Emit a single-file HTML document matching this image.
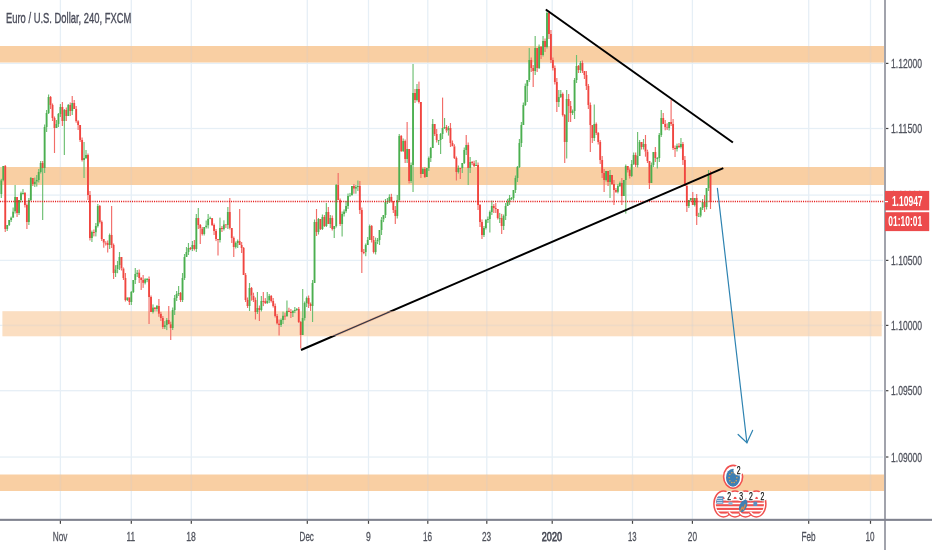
<!DOCTYPE html>
<html><head><meta charset="utf-8"><title>EURUSD chart</title><style>html,body{margin:0;padding:0;background:#fff;overflow:hidden}svg{display:block}</style></head><body>
<svg width="932" height="550" viewBox="0 0 932 550" font-family="'Liberation Sans', sans-serif">
<rect width="932" height="550" fill="#fff"/>
<rect x="59.75" y="0" width="1.3" height="520" fill="#e6eff6"/>
<rect x="130.65" y="0" width="1.3" height="520" fill="#e6eff6"/>
<rect x="190.65" y="0" width="1.3" height="520" fill="#e6eff6"/>
<rect x="306.65" y="0" width="1.3" height="520" fill="#e6eff6"/>
<rect x="367.85" y="0" width="1.3" height="520" fill="#e6eff6"/>
<rect x="427.15" y="0" width="1.3" height="520" fill="#e6eff6"/>
<rect x="486.15" y="0" width="1.3" height="520" fill="#e6eff6"/>
<rect x="551.55" y="0" width="1.3" height="520" fill="#e6eff6"/>
<rect x="631.85" y="0" width="1.3" height="520" fill="#e6eff6"/>
<rect x="691.75" y="0" width="1.3" height="520" fill="#e6eff6"/>
<rect x="808.05" y="0" width="1.3" height="520" fill="#e6eff6"/>
<rect x="869.85" y="0" width="1.3" height="520" fill="#e6eff6"/>
<rect x="0" y="62.75" width="883" height="1.3" fill="#e6eff6"/>
<rect x="0" y="127.85" width="883" height="1.3" fill="#e6eff6"/>
<rect x="0" y="194.45" width="883" height="1.3" fill="#e6eff6"/>
<rect x="0" y="259.75" width="883" height="1.3" fill="#e6eff6"/>
<rect x="0" y="324.75" width="883" height="1.3" fill="#e6eff6"/>
<rect x="0" y="390.05" width="883" height="1.3" fill="#e6eff6"/>
<rect x="0" y="456.40" width="883" height="1.3" fill="#e6eff6"/>
<rect x="0" y="46" width="884" height="16.5" fill="#f9cfa3"/>
<rect x="0" y="167" width="884" height="18" fill="#f9cfa3"/>
<rect x="2.4" y="311.2" width="879.3" height="25.1" fill="#fbdec1"/>
<rect x="0" y="474.5" width="884" height="16.5" fill="#f9cfa3"/>
<rect x="59.6" y="46" width="1.6" height="16.5" fill="#c2cfdc" opacity="0.2"/>
<rect x="59.6" y="167" width="1.6" height="18" fill="#c2cfdc" opacity="0.2"/>
<rect x="59.6" y="311" width="1.6" height="25" fill="#c2cfdc" opacity="0.2"/>
<rect x="59.6" y="474.5" width="1.6" height="16.5" fill="#c2cfdc" opacity="0.2"/>
<rect x="130.5" y="46" width="1.6" height="16.5" fill="#c2cfdc" opacity="0.2"/>
<rect x="130.5" y="167" width="1.6" height="18" fill="#c2cfdc" opacity="0.2"/>
<rect x="130.5" y="311" width="1.6" height="25" fill="#c2cfdc" opacity="0.2"/>
<rect x="130.5" y="474.5" width="1.6" height="16.5" fill="#c2cfdc" opacity="0.2"/>
<rect x="190.5" y="46" width="1.6" height="16.5" fill="#c2cfdc" opacity="0.2"/>
<rect x="190.5" y="167" width="1.6" height="18" fill="#c2cfdc" opacity="0.2"/>
<rect x="190.5" y="311" width="1.6" height="25" fill="#c2cfdc" opacity="0.2"/>
<rect x="190.5" y="474.5" width="1.6" height="16.5" fill="#c2cfdc" opacity="0.2"/>
<rect x="306.5" y="46" width="1.6" height="16.5" fill="#c2cfdc" opacity="0.2"/>
<rect x="306.5" y="167" width="1.6" height="18" fill="#c2cfdc" opacity="0.2"/>
<rect x="306.5" y="311" width="1.6" height="25" fill="#c2cfdc" opacity="0.2"/>
<rect x="306.5" y="474.5" width="1.6" height="16.5" fill="#c2cfdc" opacity="0.2"/>
<rect x="367.7" y="46" width="1.6" height="16.5" fill="#c2cfdc" opacity="0.2"/>
<rect x="367.7" y="167" width="1.6" height="18" fill="#c2cfdc" opacity="0.2"/>
<rect x="367.7" y="311" width="1.6" height="25" fill="#c2cfdc" opacity="0.2"/>
<rect x="367.7" y="474.5" width="1.6" height="16.5" fill="#c2cfdc" opacity="0.2"/>
<rect x="427.0" y="46" width="1.6" height="16.5" fill="#c2cfdc" opacity="0.2"/>
<rect x="427.0" y="167" width="1.6" height="18" fill="#c2cfdc" opacity="0.2"/>
<rect x="427.0" y="311" width="1.6" height="25" fill="#c2cfdc" opacity="0.2"/>
<rect x="427.0" y="474.5" width="1.6" height="16.5" fill="#c2cfdc" opacity="0.2"/>
<rect x="486.0" y="46" width="1.6" height="16.5" fill="#c2cfdc" opacity="0.2"/>
<rect x="486.0" y="167" width="1.6" height="18" fill="#c2cfdc" opacity="0.2"/>
<rect x="486.0" y="311" width="1.6" height="25" fill="#c2cfdc" opacity="0.2"/>
<rect x="486.0" y="474.5" width="1.6" height="16.5" fill="#c2cfdc" opacity="0.2"/>
<rect x="551.4" y="46" width="1.6" height="16.5" fill="#c2cfdc" opacity="0.2"/>
<rect x="551.4" y="167" width="1.6" height="18" fill="#c2cfdc" opacity="0.2"/>
<rect x="551.4" y="311" width="1.6" height="25" fill="#c2cfdc" opacity="0.2"/>
<rect x="551.4" y="474.5" width="1.6" height="16.5" fill="#c2cfdc" opacity="0.2"/>
<rect x="631.7" y="46" width="1.6" height="16.5" fill="#c2cfdc" opacity="0.2"/>
<rect x="631.7" y="167" width="1.6" height="18" fill="#c2cfdc" opacity="0.2"/>
<rect x="631.7" y="311" width="1.6" height="25" fill="#c2cfdc" opacity="0.2"/>
<rect x="631.7" y="474.5" width="1.6" height="16.5" fill="#c2cfdc" opacity="0.2"/>
<rect x="691.6" y="46" width="1.6" height="16.5" fill="#c2cfdc" opacity="0.2"/>
<rect x="691.6" y="167" width="1.6" height="18" fill="#c2cfdc" opacity="0.2"/>
<rect x="691.6" y="311" width="1.6" height="25" fill="#c2cfdc" opacity="0.2"/>
<rect x="691.6" y="474.5" width="1.6" height="16.5" fill="#c2cfdc" opacity="0.2"/>
<rect x="807.9" y="46" width="1.6" height="16.5" fill="#c2cfdc" opacity="0.2"/>
<rect x="807.9" y="167" width="1.6" height="18" fill="#c2cfdc" opacity="0.2"/>
<rect x="807.9" y="311" width="1.6" height="25" fill="#c2cfdc" opacity="0.2"/>
<rect x="807.9" y="474.5" width="1.6" height="16.5" fill="#c2cfdc" opacity="0.2"/>
<rect x="869.7" y="46" width="1.6" height="16.5" fill="#c2cfdc" opacity="0.2"/>
<rect x="869.7" y="167" width="1.6" height="18" fill="#c2cfdc" opacity="0.2"/>
<rect x="869.7" y="311" width="1.6" height="25" fill="#c2cfdc" opacity="0.2"/>
<rect x="869.7" y="474.5" width="1.6" height="16.5" fill="#c2cfdc" opacity="0.2"/>
<rect x="3" y="324.6" width="878" height="1.6" fill="#c2cfdc" opacity="0.2"/>
<defs><filter id="bl" x="-2%" y="-2%" width="104%" height="104%"><feGaussianBlur stdDeviation="0.45"/></filter></defs>
<g id="candles" filter="url(#bl)">
<rect x="0.72" y="178.8" width="1.15" height="1.5" fill="#6dbf72"/>
<rect x="0.72" y="194.0" width="1.15" height="4.0" fill="#6dbf72"/>
<rect x="2.69" y="180.3" width="1.15" height="1.0" fill="#6dbf72"/>
<rect x="4.67" y="165.0" width="1.15" height="1.0" fill="#f26d68"/>
<rect x="4.67" y="229.0" width="1.15" height="3.0" fill="#f26d68"/>
<rect x="6.64" y="229.0" width="1.15" height="2.0" fill="#6dbf72"/>
<rect x="8.61" y="225.0" width="1.15" height="1.0" fill="#6dbf72"/>
<rect x="10.57" y="216.6" width="1.15" height="1.0" fill="#6dbf72"/>
<rect x="10.57" y="220.0" width="1.15" height="2.0" fill="#6dbf72"/>
<rect x="12.55" y="207.5" width="1.15" height="4.0" fill="#6dbf72"/>
<rect x="14.52" y="185.0" width="1.15" height="12.0" fill="#6dbf72"/>
<rect x="14.52" y="211.5" width="1.15" height="2.0" fill="#6dbf72"/>
<rect x="16.49" y="213.0" width="1.15" height="4.0" fill="#f26d68"/>
<rect x="18.45" y="213.0" width="1.15" height="2.0" fill="#6dbf72"/>
<rect x="20.43" y="191.6" width="1.15" height="1.5" fill="#6dbf72"/>
<rect x="20.43" y="200.0" width="1.15" height="2.5" fill="#6dbf72"/>
<rect x="22.40" y="189.0" width="1.15" height="4.0" fill="#6dbf72"/>
<rect x="22.40" y="194.0" width="1.15" height="0.6" fill="#6dbf72"/>
<rect x="24.37" y="192.0" width="1.15" height="1.0" fill="#f26d68"/>
<rect x="24.37" y="205.0" width="1.15" height="2.5" fill="#f26d68"/>
<rect x="26.33" y="203.5" width="1.15" height="1.5" fill="#f26d68"/>
<rect x="26.33" y="222.0" width="1.15" height="7.0" fill="#f26d68"/>
<rect x="28.30" y="198.0" width="1.15" height="2.0" fill="#6dbf72"/>
<rect x="28.30" y="222.0" width="1.15" height="3.0" fill="#6dbf72"/>
<rect x="30.28" y="177.0" width="1.15" height="1.0" fill="#6dbf72"/>
<rect x="30.28" y="200.0" width="1.15" height="1.0" fill="#6dbf72"/>
<rect x="32.25" y="184.0" width="1.15" height="2.0" fill="#f26d68"/>
<rect x="34.21" y="177.6" width="1.15" height="4.0" fill="#6dbf72"/>
<rect x="34.21" y="184.0" width="1.15" height="3.0" fill="#6dbf72"/>
<rect x="36.18" y="175.0" width="1.15" height="5.0" fill="#6dbf72"/>
<rect x="36.18" y="181.6" width="1.15" height="5.0" fill="#6dbf72"/>
<rect x="38.16" y="169.0" width="1.15" height="3.0" fill="#6dbf72"/>
<rect x="38.16" y="180.0" width="1.15" height="2.5" fill="#6dbf72"/>
<rect x="40.13" y="161.0" width="1.15" height="2.0" fill="#6dbf72"/>
<rect x="40.13" y="172.0" width="1.15" height="1.5" fill="#6dbf72"/>
<rect x="42.09" y="161.0" width="1.15" height="2.0" fill="#f26d68"/>
<rect x="42.09" y="168.0" width="1.15" height="52.0" fill="#6dbf72"/>
<rect x="44.06" y="124.5" width="1.15" height="2.5" fill="#6dbf72"/>
<rect x="44.06" y="168.0" width="1.15" height="5.0" fill="#6dbf72"/>
<rect x="46.04" y="110.0" width="1.15" height="3.0" fill="#6dbf72"/>
<rect x="46.04" y="127.0" width="1.15" height="5.0" fill="#6dbf72"/>
<rect x="48.01" y="94.5" width="1.15" height="2.5" fill="#6dbf72"/>
<rect x="48.01" y="113.0" width="1.15" height="1.0" fill="#6dbf72"/>
<rect x="49.97" y="96.0" width="1.15" height="1.0" fill="#f26d68"/>
<rect x="49.97" y="105.0" width="1.15" height="4.0" fill="#f26d68"/>
<rect x="51.94" y="103.5" width="1.15" height="1.5" fill="#f26d68"/>
<rect x="51.94" y="118.0" width="1.15" height="3.0" fill="#f26d68"/>
<rect x="53.92" y="116.5" width="1.15" height="1.5" fill="#f26d68"/>
<rect x="53.92" y="128.0" width="1.15" height="25.0" fill="#f26d68"/>
<rect x="55.89" y="120.0" width="1.15" height="4.0" fill="#6dbf72"/>
<rect x="57.86" y="113.0" width="1.15" height="1.0" fill="#6dbf72"/>
<rect x="57.86" y="124.0" width="1.15" height="3.0" fill="#6dbf72"/>
<rect x="59.82" y="104.0" width="1.15" height="3.0" fill="#6dbf72"/>
<rect x="59.82" y="114.0" width="1.15" height="3.0" fill="#6dbf72"/>
<rect x="61.80" y="102.0" width="1.15" height="5.0" fill="#f26d68"/>
<rect x="61.80" y="121.0" width="1.15" height="5.0" fill="#f26d68"/>
<rect x="63.77" y="109.0" width="1.15" height="1.0" fill="#6dbf72"/>
<rect x="63.77" y="121.0" width="1.15" height="34.0" fill="#6dbf72"/>
<rect x="65.74" y="107.5" width="1.15" height="2.5" fill="#f26d68"/>
<rect x="65.74" y="116.0" width="1.15" height="5.0" fill="#f26d68"/>
<rect x="67.70" y="104.0" width="1.15" height="1.0" fill="#6dbf72"/>
<rect x="69.67" y="102.5" width="1.15" height="2.5" fill="#f26d68"/>
<rect x="69.67" y="111.0" width="1.15" height="5.0" fill="#f26d68"/>
<rect x="71.65" y="96.0" width="1.15" height="7.0" fill="#f26d68"/>
<rect x="71.65" y="111.0" width="1.15" height="4.0" fill="#6dbf72"/>
<rect x="73.62" y="100.0" width="1.15" height="3.0" fill="#f26d68"/>
<rect x="75.58" y="106.0" width="1.15" height="3.0" fill="#f26d68"/>
<rect x="75.58" y="121.2" width="1.15" height="1.5" fill="#f26d68"/>
<rect x="77.55" y="120.2" width="1.15" height="1.0" fill="#f26d68"/>
<rect x="77.55" y="125.0" width="1.15" height="5.0" fill="#f26d68"/>
<rect x="79.53" y="140.0" width="1.15" height="2.0" fill="#f26d68"/>
<rect x="81.50" y="137.5" width="1.15" height="2.5" fill="#f26d68"/>
<rect x="81.50" y="160.0" width="1.15" height="1.5" fill="#f26d68"/>
<rect x="83.46" y="142.0" width="1.15" height="16.0" fill="#6dbf72"/>
<rect x="83.46" y="160.0" width="1.15" height="18.0" fill="#6dbf72"/>
<rect x="85.43" y="150.0" width="1.15" height="5.0" fill="#6dbf72"/>
<rect x="85.43" y="158.0" width="1.15" height="1.0" fill="#6dbf72"/>
<rect x="87.41" y="153.5" width="1.15" height="1.5" fill="#f26d68"/>
<rect x="87.41" y="195.0" width="1.15" height="5.0" fill="#f26d68"/>
<rect x="89.38" y="191.0" width="1.15" height="4.0" fill="#f26d68"/>
<rect x="89.38" y="238.0" width="1.15" height="2.5" fill="#f26d68"/>
<rect x="91.34" y="230.5" width="1.15" height="1.5" fill="#6dbf72"/>
<rect x="91.34" y="238.0" width="1.15" height="4.0" fill="#6dbf72"/>
<rect x="93.31" y="229.5" width="1.15" height="2.5" fill="#f26d68"/>
<rect x="93.31" y="233.0" width="1.15" height="3.4" fill="#f26d68"/>
<rect x="95.29" y="223.0" width="1.15" height="3.0" fill="#6dbf72"/>
<rect x="95.29" y="232.4" width="1.15" height="4.0" fill="#6dbf72"/>
<rect x="97.26" y="204.0" width="1.15" height="2.0" fill="#6dbf72"/>
<rect x="97.26" y="226.0" width="1.15" height="1.5" fill="#6dbf72"/>
<rect x="99.22" y="205.0" width="1.15" height="1.0" fill="#f26d68"/>
<rect x="99.22" y="222.0" width="1.15" height="1.5" fill="#f26d68"/>
<rect x="101.19" y="220.5" width="1.15" height="1.5" fill="#f26d68"/>
<rect x="101.19" y="239.0" width="1.15" height="2.0" fill="#f26d68"/>
<rect x="103.17" y="242.7" width="1.15" height="5.0" fill="#f26d68"/>
<rect x="105.14" y="241.2" width="1.15" height="1.5" fill="#f26d68"/>
<rect x="105.14" y="243.7" width="1.15" height="1.8" fill="#f26d68"/>
<rect x="107.11" y="240.5" width="1.15" height="2.5" fill="#f26d68"/>
<rect x="107.11" y="245.0" width="1.15" height="7.5" fill="#f26d68"/>
<rect x="109.07" y="233.5" width="1.15" height="1.5" fill="#6dbf72"/>
<rect x="109.07" y="245.0" width="1.15" height="4.0" fill="#6dbf72"/>
<rect x="111.05" y="206.0" width="1.15" height="29.0" fill="#f26d68"/>
<rect x="111.05" y="245.0" width="1.15" height="3.0" fill="#f26d68"/>
<rect x="113.02" y="243.5" width="1.15" height="1.5" fill="#f26d68"/>
<rect x="113.02" y="273.0" width="1.15" height="6.0" fill="#f26d68"/>
<rect x="114.99" y="265.2" width="1.15" height="4.0" fill="#6dbf72"/>
<rect x="114.99" y="273.0" width="1.15" height="4.0" fill="#6dbf72"/>
<rect x="116.95" y="261.0" width="1.15" height="4.0" fill="#6dbf72"/>
<rect x="116.95" y="269.2" width="1.15" height="4.0" fill="#6dbf72"/>
<rect x="118.92" y="252.0" width="1.15" height="5.0" fill="#6dbf72"/>
<rect x="118.92" y="265.0" width="1.15" height="5.0" fill="#6dbf72"/>
<rect x="120.90" y="268.5" width="1.15" height="2.0" fill="#f26d68"/>
<rect x="122.87" y="267.5" width="1.15" height="1.0" fill="#f26d68"/>
<rect x="122.87" y="278.0" width="1.15" height="2.0" fill="#f26d68"/>
<rect x="124.83" y="273.0" width="1.15" height="5.0" fill="#f26d68"/>
<rect x="124.83" y="300.0" width="1.15" height="1.5" fill="#f26d68"/>
<rect x="126.80" y="300.0" width="1.15" height="1.0" fill="#6dbf72"/>
<rect x="128.78" y="302.0" width="1.15" height="3.0" fill="#f26d68"/>
<rect x="130.75" y="291.0" width="1.15" height="1.0" fill="#6dbf72"/>
<rect x="130.75" y="302.0" width="1.15" height="3.0" fill="#6dbf72"/>
<rect x="132.71" y="292.0" width="1.15" height="1.0" fill="#6dbf72"/>
<rect x="134.69" y="268.0" width="1.15" height="6.0" fill="#6dbf72"/>
<rect x="134.69" y="280.0" width="1.15" height="4.0" fill="#6dbf72"/>
<rect x="136.66" y="270.0" width="1.15" height="2.5" fill="#6dbf72"/>
<rect x="136.66" y="274.0" width="1.15" height="3.0" fill="#6dbf72"/>
<rect x="138.63" y="269.5" width="1.15" height="3.0" fill="#f26d68"/>
<rect x="138.63" y="278.0" width="1.15" height="5.0" fill="#f26d68"/>
<rect x="140.59" y="277.0" width="1.15" height="1.0" fill="#f26d68"/>
<rect x="140.59" y="280.0" width="1.15" height="10.0" fill="#f26d68"/>
<rect x="142.56" y="275.0" width="1.15" height="5.0" fill="#f26d68"/>
<rect x="142.56" y="282.9" width="1.15" height="5.0" fill="#f26d68"/>
<rect x="144.54" y="278.2" width="1.15" height="1.0" fill="#6dbf72"/>
<rect x="144.54" y="282.9" width="1.15" height="1.5" fill="#6dbf72"/>
<rect x="146.51" y="278.0" width="1.15" height="1.0" fill="#6dbf72"/>
<rect x="146.51" y="280.0" width="1.15" height="2.2" fill="#6dbf72"/>
<rect x="148.47" y="276.5" width="1.15" height="2.5" fill="#f26d68"/>
<rect x="148.47" y="297.0" width="1.15" height="27.0" fill="#f26d68"/>
<rect x="150.44" y="295.5" width="1.15" height="1.5" fill="#f26d68"/>
<rect x="152.42" y="304.4" width="1.15" height="3.0" fill="#6dbf72"/>
<rect x="152.42" y="312.0" width="1.15" height="1.5" fill="#6dbf72"/>
<rect x="154.39" y="309.0" width="1.15" height="2.5" fill="#f26d68"/>
<rect x="156.36" y="305.0" width="1.15" height="1.0" fill="#6dbf72"/>
<rect x="156.36" y="309.0" width="1.15" height="2.5" fill="#6dbf72"/>
<rect x="158.32" y="299.0" width="1.15" height="7.0" fill="#f26d68"/>
<rect x="158.32" y="313.8" width="1.15" height="3.0" fill="#f26d68"/>
<rect x="160.30" y="311.8" width="1.15" height="2.0" fill="#f26d68"/>
<rect x="160.30" y="318.0" width="1.15" height="3.0" fill="#f26d68"/>
<rect x="162.27" y="316.0" width="1.15" height="2.0" fill="#f26d68"/>
<rect x="162.27" y="327.0" width="1.15" height="2.0" fill="#f26d68"/>
<rect x="164.24" y="321.1" width="1.15" height="4.0" fill="#6dbf72"/>
<rect x="164.24" y="327.0" width="1.15" height="2.0" fill="#6dbf72"/>
<rect x="166.20" y="318.0" width="1.15" height="2.0" fill="#6dbf72"/>
<rect x="166.20" y="325.1" width="1.15" height="5.0" fill="#6dbf72"/>
<rect x="168.18" y="306.0" width="1.15" height="14.0" fill="#f26d68"/>
<rect x="170.15" y="321.7" width="1.15" height="2.5" fill="#f26d68"/>
<rect x="170.15" y="328.0" width="1.15" height="12.0" fill="#f26d68"/>
<rect x="172.12" y="307.5" width="1.15" height="2.5" fill="#6dbf72"/>
<rect x="172.12" y="328.0" width="1.15" height="2.0" fill="#6dbf72"/>
<rect x="174.08" y="295.0" width="1.15" height="3.0" fill="#6dbf72"/>
<rect x="174.08" y="310.0" width="1.15" height="5.0" fill="#6dbf72"/>
<rect x="176.06" y="291.0" width="1.15" height="3.0" fill="#6dbf72"/>
<rect x="176.06" y="298.0" width="1.15" height="3.0" fill="#6dbf72"/>
<rect x="178.03" y="286.0" width="1.15" height="7.0" fill="#6dbf72"/>
<rect x="178.03" y="294.0" width="1.15" height="2.0" fill="#6dbf72"/>
<rect x="180.00" y="292.0" width="1.15" height="1.0" fill="#f26d68"/>
<rect x="180.00" y="300.0" width="1.15" height="2.0" fill="#f26d68"/>
<rect x="181.96" y="273.0" width="1.15" height="5.0" fill="#6dbf72"/>
<rect x="181.96" y="300.0" width="1.15" height="2.0" fill="#6dbf72"/>
<rect x="183.94" y="254.0" width="1.15" height="3.0" fill="#6dbf72"/>
<rect x="183.94" y="278.0" width="1.15" height="2.0" fill="#6dbf72"/>
<rect x="185.91" y="247.0" width="1.15" height="5.0" fill="#6dbf72"/>
<rect x="187.88" y="243.0" width="1.15" height="5.0" fill="#6dbf72"/>
<rect x="187.88" y="252.0" width="1.15" height="3.0" fill="#6dbf72"/>
<rect x="189.84" y="247.0" width="1.15" height="1.0" fill="#f26d68"/>
<rect x="189.84" y="249.1" width="1.15" height="1.0" fill="#f26d68"/>
<rect x="191.81" y="241.0" width="1.15" height="4.0" fill="#6dbf72"/>
<rect x="191.81" y="249.1" width="1.15" height="2.0" fill="#6dbf72"/>
<rect x="193.79" y="240.0" width="1.15" height="5.0" fill="#f26d68"/>
<rect x="193.79" y="249.0" width="1.15" height="1.5" fill="#f26d68"/>
<rect x="195.76" y="214.0" width="1.15" height="4.0" fill="#6dbf72"/>
<rect x="195.76" y="249.0" width="1.15" height="3.0" fill="#6dbf72"/>
<rect x="197.72" y="208.0" width="1.15" height="10.0" fill="#6dbf72"/>
<rect x="197.72" y="225.0" width="1.15" height="4.0" fill="#f26d68"/>
<rect x="199.69" y="224.0" width="1.15" height="1.0" fill="#f26d68"/>
<rect x="199.69" y="228.5" width="1.15" height="15.5" fill="#f26d68"/>
<rect x="201.67" y="227.0" width="1.15" height="1.5" fill="#f26d68"/>
<rect x="201.67" y="234.0" width="1.15" height="1.5" fill="#f26d68"/>
<rect x="203.63" y="234.0" width="1.15" height="1.5" fill="#6dbf72"/>
<rect x="205.61" y="220.5" width="1.15" height="5.0" fill="#6dbf72"/>
<rect x="205.61" y="227.0" width="1.15" height="1.5" fill="#6dbf72"/>
<rect x="207.58" y="214.0" width="1.15" height="5.0" fill="#6dbf72"/>
<rect x="207.58" y="225.5" width="1.15" height="3.0" fill="#6dbf72"/>
<rect x="209.55" y="216.6" width="1.15" height="1.5" fill="#6dbf72"/>
<rect x="211.52" y="225.0" width="1.15" height="1.0" fill="#f26d68"/>
<rect x="213.49" y="223.5" width="1.15" height="1.5" fill="#f26d68"/>
<rect x="213.49" y="231.0" width="1.15" height="4.0" fill="#f26d68"/>
<rect x="215.46" y="229.0" width="1.15" height="2.0" fill="#f26d68"/>
<rect x="215.46" y="239.1" width="1.15" height="2.0" fill="#f26d68"/>
<rect x="217.43" y="240.1" width="1.15" height="15.4" fill="#f26d68"/>
<rect x="219.40" y="217.6" width="1.15" height="10.4" fill="#6dbf72"/>
<rect x="219.40" y="240.0" width="1.15" height="2.5" fill="#6dbf72"/>
<rect x="221.37" y="226.0" width="1.15" height="2.0" fill="#f26d68"/>
<rect x="221.37" y="229.0" width="1.15" height="3.0" fill="#f26d68"/>
<rect x="223.34" y="220.3" width="1.15" height="4.0" fill="#6dbf72"/>
<rect x="223.34" y="229.0" width="1.15" height="1.5" fill="#6dbf72"/>
<rect x="225.31" y="225.3" width="1.15" height="2.7" fill="#f26d68"/>
<rect x="227.28" y="207.0" width="1.15" height="5.0" fill="#6dbf72"/>
<rect x="227.28" y="225.0" width="1.15" height="4.0" fill="#6dbf72"/>
<rect x="229.25" y="198.0" width="1.15" height="14.0" fill="#f26d68"/>
<rect x="229.25" y="228.0" width="1.15" height="1.5" fill="#f26d68"/>
<rect x="231.22" y="238.0" width="1.15" height="5.0" fill="#f26d68"/>
<rect x="233.19" y="236.5" width="1.15" height="1.5" fill="#f26d68"/>
<rect x="233.19" y="247.0" width="1.15" height="10.0" fill="#f26d68"/>
<rect x="235.16" y="241.5" width="1.15" height="1.5" fill="#6dbf72"/>
<rect x="235.16" y="247.0" width="1.15" height="1.5" fill="#6dbf72"/>
<rect x="237.12" y="239.5" width="1.15" height="1.5" fill="#6dbf72"/>
<rect x="237.12" y="243.0" width="1.15" height="5.0" fill="#6dbf72"/>
<rect x="239.10" y="209.0" width="1.15" height="32.0" fill="#f26d68"/>
<rect x="241.06" y="242.0" width="1.15" height="3.0" fill="#f26d68"/>
<rect x="241.06" y="248.0" width="1.15" height="5.0" fill="#f26d68"/>
<rect x="243.04" y="247.0" width="1.15" height="1.0" fill="#f26d68"/>
<rect x="245.00" y="273.0" width="1.15" height="2.0" fill="#f26d68"/>
<rect x="245.00" y="300.0" width="1.15" height="2.0" fill="#f26d68"/>
<rect x="246.98" y="297.5" width="1.15" height="2.5" fill="#f26d68"/>
<rect x="246.98" y="306.0" width="1.15" height="2.0" fill="#f26d68"/>
<rect x="248.94" y="283.0" width="1.15" height="5.0" fill="#6dbf72"/>
<rect x="248.94" y="306.0" width="1.15" height="5.0" fill="#6dbf72"/>
<rect x="250.92" y="287.0" width="1.15" height="1.0" fill="#f26d68"/>
<rect x="250.92" y="295.7" width="1.15" height="5.0" fill="#f26d68"/>
<rect x="252.88" y="292.7" width="1.15" height="3.0" fill="#f26d68"/>
<rect x="252.88" y="300.0" width="1.15" height="2.0" fill="#f26d68"/>
<rect x="254.86" y="297.5" width="1.15" height="2.5" fill="#f26d68"/>
<rect x="254.86" y="312.0" width="1.15" height="7.5" fill="#f26d68"/>
<rect x="256.83" y="292.0" width="1.15" height="16.0" fill="#6dbf72"/>
<rect x="256.83" y="312.0" width="1.15" height="2.0" fill="#6dbf72"/>
<rect x="258.80" y="305.5" width="1.15" height="2.5" fill="#f26d68"/>
<rect x="258.80" y="310.0" width="1.15" height="11.0" fill="#f26d68"/>
<rect x="260.77" y="296.0" width="1.15" height="5.0" fill="#6dbf72"/>
<rect x="260.77" y="310.0" width="1.15" height="1.5" fill="#6dbf72"/>
<rect x="262.74" y="292.0" width="1.15" height="9.0" fill="#f26d68"/>
<rect x="262.74" y="302.0" width="1.15" height="4.1" fill="#f26d68"/>
<rect x="264.71" y="298.1" width="1.15" height="3.0" fill="#f26d68"/>
<rect x="264.71" y="303.0" width="1.15" height="1.0" fill="#f26d68"/>
<rect x="266.68" y="292.0" width="1.15" height="8.6" fill="#6dbf72"/>
<rect x="266.68" y="303.0" width="1.15" height="1.0" fill="#6dbf72"/>
<rect x="268.65" y="294.0" width="1.15" height="2.0" fill="#6dbf72"/>
<rect x="268.65" y="300.6" width="1.15" height="2.5" fill="#6dbf72"/>
<rect x="270.62" y="295.0" width="1.15" height="1.0" fill="#f26d68"/>
<rect x="270.62" y="301.0" width="1.15" height="1.5" fill="#f26d68"/>
<rect x="272.59" y="298.0" width="1.15" height="3.0" fill="#f26d68"/>
<rect x="272.59" y="306.0" width="1.15" height="1.5" fill="#f26d68"/>
<rect x="274.56" y="303.5" width="1.15" height="2.5" fill="#f26d68"/>
<rect x="274.56" y="316.0" width="1.15" height="1.5" fill="#f26d68"/>
<rect x="276.53" y="314.0" width="1.15" height="2.0" fill="#f26d68"/>
<rect x="276.53" y="323.5" width="1.15" height="1.0" fill="#f26d68"/>
<rect x="278.50" y="319.5" width="1.15" height="4.0" fill="#f26d68"/>
<rect x="278.50" y="325.0" width="1.15" height="10.5" fill="#f26d68"/>
<rect x="280.47" y="318.5" width="1.15" height="1.5" fill="#6dbf72"/>
<rect x="280.47" y="325.0" width="1.15" height="2.0" fill="#6dbf72"/>
<rect x="282.44" y="311.6" width="1.15" height="4.0" fill="#6dbf72"/>
<rect x="282.44" y="320.0" width="1.15" height="4.0" fill="#6dbf72"/>
<rect x="284.41" y="312.6" width="1.15" height="3.0" fill="#f26d68"/>
<rect x="284.41" y="316.6" width="1.15" height="3.4" fill="#f26d68"/>
<rect x="286.38" y="300.5" width="1.15" height="10.2" fill="#6dbf72"/>
<rect x="286.38" y="316.0" width="1.15" height="1.0" fill="#6dbf72"/>
<rect x="288.35" y="307.7" width="1.15" height="3.0" fill="#f26d68"/>
<rect x="290.31" y="309.0" width="1.15" height="3.0" fill="#f26d68"/>
<rect x="290.31" y="313.0" width="1.15" height="5.0" fill="#f26d68"/>
<rect x="292.29" y="313.0" width="1.15" height="4.0" fill="#6dbf72"/>
<rect x="294.25" y="307.0" width="1.15" height="3.0" fill="#6dbf72"/>
<rect x="294.25" y="311.0" width="1.15" height="2.1" fill="#6dbf72"/>
<rect x="296.23" y="308.0" width="1.15" height="1.0" fill="#6dbf72"/>
<rect x="296.23" y="310.0" width="1.15" height="1.0" fill="#6dbf72"/>
<rect x="298.19" y="307.0" width="1.15" height="2.0" fill="#f26d68"/>
<rect x="298.19" y="322.0" width="1.15" height="1.0" fill="#f26d68"/>
<rect x="300.17" y="321.0" width="1.15" height="1.0" fill="#f26d68"/>
<rect x="300.17" y="335.0" width="1.15" height="13.5" fill="#f26d68"/>
<rect x="302.13" y="289.0" width="1.15" height="29.0" fill="#6dbf72"/>
<rect x="304.11" y="301.5" width="1.15" height="1.5" fill="#6dbf72"/>
<rect x="304.11" y="318.0" width="1.15" height="2.5" fill="#6dbf72"/>
<rect x="306.07" y="296.5" width="1.15" height="1.5" fill="#6dbf72"/>
<rect x="306.07" y="303.0" width="1.15" height="4.0" fill="#6dbf72"/>
<rect x="308.05" y="295.5" width="1.15" height="2.5" fill="#f26d68"/>
<rect x="308.05" y="304.0" width="1.15" height="4.0" fill="#f26d68"/>
<rect x="310.02" y="302.5" width="1.15" height="1.5" fill="#f26d68"/>
<rect x="310.02" y="306.0" width="1.15" height="5.0" fill="#f26d68"/>
<rect x="311.99" y="280.0" width="1.15" height="3.0" fill="#6dbf72"/>
<rect x="311.99" y="306.0" width="1.15" height="16.0" fill="#6dbf72"/>
<rect x="313.96" y="219.5" width="1.15" height="2.5" fill="#6dbf72"/>
<rect x="315.93" y="209.0" width="1.15" height="13.0" fill="#f26d68"/>
<rect x="315.93" y="232.0" width="1.15" height="4.0" fill="#f26d68"/>
<rect x="317.90" y="218.0" width="1.15" height="1.0" fill="#6dbf72"/>
<rect x="317.90" y="232.0" width="1.15" height="2.5" fill="#6dbf72"/>
<rect x="319.87" y="229.0" width="1.15" height="1.0" fill="#f26d68"/>
<rect x="321.84" y="214.5" width="1.15" height="2.5" fill="#6dbf72"/>
<rect x="321.84" y="229.0" width="1.15" height="1.0" fill="#6dbf72"/>
<rect x="323.81" y="215.0" width="1.15" height="2.0" fill="#f26d68"/>
<rect x="323.81" y="226.0" width="1.15" height="1.0" fill="#f26d68"/>
<rect x="325.78" y="203.0" width="1.15" height="9.0" fill="#6dbf72"/>
<rect x="325.78" y="226.0" width="1.15" height="1.0" fill="#6dbf72"/>
<rect x="327.75" y="207.0" width="1.15" height="5.0" fill="#f26d68"/>
<rect x="329.72" y="215.0" width="1.15" height="3.0" fill="#6dbf72"/>
<rect x="329.72" y="224.0" width="1.15" height="4.0" fill="#6dbf72"/>
<rect x="331.69" y="215.5" width="1.15" height="2.5" fill="#f26d68"/>
<rect x="331.69" y="229.0" width="1.15" height="1.5" fill="#f26d68"/>
<rect x="333.66" y="229.0" width="1.15" height="9.0" fill="#6dbf72"/>
<rect x="335.62" y="184.0" width="1.15" height="1.0" fill="#6dbf72"/>
<rect x="335.62" y="226.0" width="1.15" height="1.5" fill="#6dbf72"/>
<rect x="337.60" y="173.0" width="1.15" height="12.0" fill="#f26d68"/>
<rect x="339.56" y="198.5" width="1.15" height="1.5" fill="#f26d68"/>
<rect x="339.56" y="224.0" width="1.15" height="2.0" fill="#f26d68"/>
<rect x="341.54" y="211.5" width="1.15" height="2.5" fill="#6dbf72"/>
<rect x="341.54" y="224.0" width="1.15" height="12.5" fill="#6dbf72"/>
<rect x="343.50" y="209.4" width="1.15" height="2.0" fill="#6dbf72"/>
<rect x="343.50" y="214.0" width="1.15" height="2.5" fill="#6dbf72"/>
<rect x="345.48" y="201.0" width="1.15" height="5.0" fill="#6dbf72"/>
<rect x="345.48" y="211.4" width="1.15" height="1.5" fill="#6dbf72"/>
<rect x="347.44" y="193.5" width="1.15" height="2.5" fill="#6dbf72"/>
<rect x="347.44" y="206.0" width="1.15" height="3.0" fill="#6dbf72"/>
<rect x="349.42" y="192.9" width="1.15" height="2.5" fill="#6dbf72"/>
<rect x="353.36" y="184.0" width="1.15" height="2.0" fill="#f26d68"/>
<rect x="353.36" y="188.7" width="1.15" height="5.0" fill="#f26d68"/>
<rect x="355.32" y="185.0" width="1.15" height="2.0" fill="#6dbf72"/>
<rect x="355.32" y="188.7" width="1.15" height="5.0" fill="#6dbf72"/>
<rect x="357.30" y="180.5" width="1.15" height="5.5" fill="#6dbf72"/>
<rect x="357.30" y="187.0" width="1.15" height="4.0" fill="#6dbf72"/>
<rect x="359.27" y="181.0" width="1.15" height="5.0" fill="#f26d68"/>
<rect x="359.27" y="210.0" width="1.15" height="4.0" fill="#f26d68"/>
<rect x="361.24" y="207.5" width="1.15" height="2.5" fill="#f26d68"/>
<rect x="361.24" y="252.0" width="1.15" height="21.0" fill="#f26d68"/>
<rect x="363.21" y="249.0" width="1.15" height="3.0" fill="#f26d68"/>
<rect x="363.21" y="253.0" width="1.15" height="1.2" fill="#f26d68"/>
<rect x="365.18" y="243.5" width="1.15" height="1.5" fill="#6dbf72"/>
<rect x="365.18" y="252.2" width="1.15" height="4.0" fill="#6dbf72"/>
<rect x="367.15" y="237.0" width="1.15" height="3.0" fill="#6dbf72"/>
<rect x="369.12" y="224.5" width="1.15" height="1.5" fill="#6dbf72"/>
<rect x="371.09" y="225.0" width="1.15" height="1.0" fill="#f26d68"/>
<rect x="371.09" y="240.0" width="1.15" height="2.5" fill="#f26d68"/>
<rect x="373.06" y="236.0" width="1.15" height="4.0" fill="#f26d68"/>
<rect x="373.06" y="252.0" width="1.15" height="1.5" fill="#f26d68"/>
<rect x="375.03" y="237.6" width="1.15" height="4.0" fill="#6dbf72"/>
<rect x="375.03" y="252.0" width="1.15" height="2.5" fill="#6dbf72"/>
<rect x="377.00" y="238.0" width="1.15" height="2.0" fill="#6dbf72"/>
<rect x="377.00" y="241.6" width="1.15" height="2.5" fill="#6dbf72"/>
<rect x="378.97" y="240.0" width="1.15" height="5.0" fill="#6dbf72"/>
<rect x="380.94" y="217.1" width="1.15" height="2.5" fill="#6dbf72"/>
<rect x="380.94" y="230.0" width="1.15" height="5.0" fill="#6dbf72"/>
<rect x="382.91" y="219.6" width="1.15" height="2.5" fill="#6dbf72"/>
<rect x="384.88" y="199.0" width="1.15" height="3.0" fill="#6dbf72"/>
<rect x="384.88" y="215.0" width="1.15" height="3.0" fill="#6dbf72"/>
<rect x="386.85" y="198.0" width="1.15" height="3.0" fill="#6dbf72"/>
<rect x="386.85" y="202.0" width="1.15" height="2.0" fill="#6dbf72"/>
<rect x="388.81" y="194.3" width="1.15" height="2.5" fill="#6dbf72"/>
<rect x="388.81" y="201.0" width="1.15" height="2.0" fill="#6dbf72"/>
<rect x="390.79" y="193.8" width="1.15" height="3.0" fill="#f26d68"/>
<rect x="390.79" y="201.0" width="1.15" height="1.5" fill="#f26d68"/>
<rect x="392.75" y="210.0" width="1.15" height="3.0" fill="#f26d68"/>
<rect x="394.73" y="206.0" width="1.15" height="4.0" fill="#f26d68"/>
<rect x="394.73" y="216.0" width="1.15" height="8.0" fill="#f26d68"/>
<rect x="396.69" y="195.0" width="1.15" height="5.0" fill="#6dbf72"/>
<rect x="396.69" y="216.0" width="1.15" height="2.5" fill="#6dbf72"/>
<rect x="398.67" y="134.0" width="1.15" height="2.0" fill="#6dbf72"/>
<rect x="398.67" y="200.0" width="1.15" height="2.0" fill="#6dbf72"/>
<rect x="400.63" y="135.0" width="1.15" height="1.0" fill="#f26d68"/>
<rect x="400.63" y="151.0" width="1.15" height="1.0" fill="#f26d68"/>
<rect x="402.61" y="138.5" width="1.15" height="2.5" fill="#6dbf72"/>
<rect x="402.61" y="151.0" width="1.15" height="1.0" fill="#6dbf72"/>
<rect x="404.57" y="139.5" width="1.15" height="1.5" fill="#f26d68"/>
<rect x="404.57" y="159.0" width="1.15" height="4.0" fill="#f26d68"/>
<rect x="406.55" y="122.0" width="1.15" height="27.0" fill="#f26d68"/>
<rect x="406.55" y="159.0" width="1.15" height="4.0" fill="#6dbf72"/>
<rect x="408.52" y="181.0" width="1.15" height="2.5" fill="#f26d68"/>
<rect x="410.49" y="162.5" width="1.15" height="2.5" fill="#6dbf72"/>
<rect x="410.49" y="181.0" width="1.15" height="2.0" fill="#6dbf72"/>
<rect x="412.46" y="64.0" width="1.15" height="29.0" fill="#6dbf72"/>
<rect x="412.46" y="165.0" width="1.15" height="27.0" fill="#6dbf72"/>
<rect x="414.43" y="89.0" width="1.15" height="4.0" fill="#f26d68"/>
<rect x="414.43" y="100.0" width="1.15" height="3.0" fill="#f26d68"/>
<rect x="416.40" y="84.0" width="1.15" height="5.0" fill="#6dbf72"/>
<rect x="416.40" y="100.0" width="1.15" height="1.5" fill="#6dbf72"/>
<rect x="418.37" y="81.6" width="1.15" height="7.4" fill="#f26d68"/>
<rect x="418.37" y="102.0" width="1.15" height="1.5" fill="#f26d68"/>
<rect x="420.34" y="174.0" width="1.15" height="4.0" fill="#f26d68"/>
<rect x="422.31" y="167.5" width="1.15" height="1.5" fill="#6dbf72"/>
<rect x="424.28" y="167.0" width="1.15" height="2.0" fill="#f26d68"/>
<rect x="424.28" y="177.0" width="1.15" height="1.0" fill="#f26d68"/>
<rect x="428.22" y="156.5" width="1.15" height="1.5" fill="#6dbf72"/>
<rect x="428.22" y="168.0" width="1.15" height="3.0" fill="#6dbf72"/>
<rect x="430.19" y="147.0" width="1.15" height="1.0" fill="#6dbf72"/>
<rect x="430.19" y="158.0" width="1.15" height="4.0" fill="#6dbf72"/>
<rect x="432.16" y="119.0" width="1.15" height="5.0" fill="#6dbf72"/>
<rect x="434.12" y="134.0" width="1.15" height="2.0" fill="#f26d68"/>
<rect x="436.10" y="129.0" width="1.15" height="5.0" fill="#f26d68"/>
<rect x="436.10" y="140.0" width="1.15" height="2.5" fill="#f26d68"/>
<rect x="438.06" y="141.0" width="1.15" height="4.0" fill="#6dbf72"/>
<rect x="440.04" y="133.0" width="1.15" height="1.0" fill="#6dbf72"/>
<rect x="440.04" y="140.0" width="1.15" height="14.0" fill="#6dbf72"/>
<rect x="442.00" y="97.6" width="1.15" height="30.4" fill="#f26d68"/>
<rect x="442.00" y="134.0" width="1.15" height="5.0" fill="#6dbf72"/>
<rect x="443.98" y="118.0" width="1.15" height="9.0" fill="#6dbf72"/>
<rect x="443.98" y="128.0" width="1.15" height="1.0" fill="#6dbf72"/>
<rect x="445.94" y="125.0" width="1.15" height="2.0" fill="#f26d68"/>
<rect x="445.94" y="130.6" width="1.15" height="2.0" fill="#f26d68"/>
<rect x="447.92" y="126.0" width="1.15" height="2.0" fill="#6dbf72"/>
<rect x="447.92" y="130.6" width="1.15" height="5.0" fill="#6dbf72"/>
<rect x="449.88" y="123.0" width="1.15" height="5.0" fill="#f26d68"/>
<rect x="449.88" y="143.0" width="1.15" height="4.0" fill="#f26d68"/>
<rect x="451.86" y="140.5" width="1.15" height="2.5" fill="#f26d68"/>
<rect x="453.82" y="144.3" width="1.15" height="2.0" fill="#f26d68"/>
<rect x="453.82" y="158.0" width="1.15" height="1.0" fill="#f26d68"/>
<rect x="455.80" y="156.5" width="1.15" height="1.5" fill="#f26d68"/>
<rect x="455.80" y="172.0" width="1.15" height="8.5" fill="#f26d68"/>
<rect x="457.77" y="165.5" width="1.15" height="2.5" fill="#6dbf72"/>
<rect x="457.77" y="172.0" width="1.15" height="1.5" fill="#6dbf72"/>
<rect x="459.74" y="169.0" width="1.15" height="10.0" fill="#f26d68"/>
<rect x="461.70" y="168.0" width="1.15" height="5.0" fill="#6dbf72"/>
<rect x="463.68" y="147.5" width="1.15" height="2.5" fill="#6dbf72"/>
<rect x="463.68" y="163.0" width="1.15" height="1.0" fill="#6dbf72"/>
<rect x="465.65" y="135.0" width="1.15" height="10.0" fill="#f26d68"/>
<rect x="465.65" y="150.0" width="1.15" height="5.0" fill="#6dbf72"/>
<rect x="467.62" y="142.5" width="1.15" height="2.5" fill="#f26d68"/>
<rect x="467.62" y="168.0" width="1.15" height="17.0" fill="#6dbf72"/>
<rect x="469.58" y="157.0" width="1.15" height="5.0" fill="#6dbf72"/>
<rect x="469.58" y="168.0" width="1.15" height="5.0" fill="#6dbf72"/>
<rect x="471.56" y="161.0" width="1.15" height="1.0" fill="#f26d68"/>
<rect x="471.56" y="163.2" width="1.15" height="2.0" fill="#f26d68"/>
<rect x="473.53" y="160.7" width="1.15" height="2.5" fill="#f26d68"/>
<rect x="473.53" y="166.0" width="1.15" height="1.0" fill="#f26d68"/>
<rect x="475.50" y="160.0" width="1.15" height="5.0" fill="#6dbf72"/>
<rect x="477.46" y="162.5" width="1.15" height="2.5" fill="#f26d68"/>
<rect x="477.46" y="205.0" width="1.15" height="5.0" fill="#f26d68"/>
<rect x="479.44" y="204.0" width="1.15" height="1.0" fill="#f26d68"/>
<rect x="479.44" y="222.0" width="1.15" height="5.0" fill="#f26d68"/>
<rect x="481.41" y="219.5" width="1.15" height="2.5" fill="#f26d68"/>
<rect x="481.41" y="235.0" width="1.15" height="4.0" fill="#f26d68"/>
<rect x="483.38" y="226.0" width="1.15" height="2.0" fill="#6dbf72"/>
<rect x="483.38" y="235.0" width="1.15" height="2.0" fill="#6dbf72"/>
<rect x="485.35" y="219.0" width="1.15" height="1.0" fill="#6dbf72"/>
<rect x="485.35" y="228.0" width="1.15" height="1.5" fill="#6dbf72"/>
<rect x="487.31" y="216.5" width="1.15" height="2.5" fill="#6dbf72"/>
<rect x="487.31" y="220.0" width="1.15" height="3.0" fill="#6dbf72"/>
<rect x="489.29" y="210.5" width="1.15" height="1.5" fill="#6dbf72"/>
<rect x="489.29" y="219.0" width="1.15" height="13.5" fill="#6dbf72"/>
<rect x="491.26" y="200.5" width="1.15" height="5.5" fill="#6dbf72"/>
<rect x="491.26" y="212.0" width="1.15" height="3.0" fill="#6dbf72"/>
<rect x="493.23" y="204.0" width="1.15" height="2.0" fill="#f26d68"/>
<rect x="493.23" y="208.0" width="1.15" height="5.0" fill="#f26d68"/>
<rect x="495.19" y="203.0" width="1.15" height="5.0" fill="#f26d68"/>
<rect x="495.19" y="209.0" width="1.15" height="4.0" fill="#f26d68"/>
<rect x="497.17" y="218.0" width="1.15" height="1.5" fill="#f26d68"/>
<rect x="499.14" y="212.9" width="1.15" height="5.0" fill="#6dbf72"/>
<rect x="499.14" y="218.9" width="1.15" height="4.1" fill="#6dbf72"/>
<rect x="501.11" y="213.9" width="1.15" height="4.0" fill="#f26d68"/>
<rect x="501.11" y="226.0" width="1.15" height="8.0" fill="#f26d68"/>
<rect x="503.07" y="214.5" width="1.15" height="1.5" fill="#6dbf72"/>
<rect x="503.07" y="226.0" width="1.15" height="4.0" fill="#6dbf72"/>
<rect x="505.05" y="203.0" width="1.15" height="3.0" fill="#6dbf72"/>
<rect x="505.05" y="216.0" width="1.15" height="4.0" fill="#6dbf72"/>
<rect x="507.02" y="198.9" width="1.15" height="3.0" fill="#6dbf72"/>
<rect x="508.99" y="195.0" width="1.15" height="3.0" fill="#6dbf72"/>
<rect x="508.99" y="201.9" width="1.15" height="3.0" fill="#6dbf72"/>
<rect x="510.95" y="197.0" width="1.15" height="1.0" fill="#6dbf72"/>
<rect x="510.95" y="199.0" width="1.15" height="1.0" fill="#6dbf72"/>
<rect x="512.92" y="198.0" width="1.15" height="2.5" fill="#6dbf72"/>
<rect x="514.89" y="175.5" width="1.15" height="2.5" fill="#6dbf72"/>
<rect x="514.89" y="190.0" width="1.15" height="3.0" fill="#6dbf72"/>
<rect x="516.87" y="166.0" width="1.15" height="1.0" fill="#6dbf72"/>
<rect x="516.87" y="178.0" width="1.15" height="4.0" fill="#6dbf72"/>
<rect x="518.83" y="139.0" width="1.15" height="4.0" fill="#6dbf72"/>
<rect x="518.83" y="167.0" width="1.15" height="1.0" fill="#6dbf72"/>
<rect x="520.80" y="122.0" width="1.15" height="3.0" fill="#6dbf72"/>
<rect x="520.80" y="143.0" width="1.15" height="4.0" fill="#6dbf72"/>
<rect x="522.77" y="102.5" width="1.15" height="2.5" fill="#6dbf72"/>
<rect x="524.74" y="83.5" width="1.15" height="2.5" fill="#6dbf72"/>
<rect x="524.74" y="105.0" width="1.15" height="1.0" fill="#6dbf72"/>
<rect x="526.71" y="86.0" width="1.15" height="16.0" fill="#6dbf72"/>
<rect x="528.68" y="48.0" width="1.15" height="12.0" fill="#6dbf72"/>
<rect x="528.68" y="80.0" width="1.15" height="2.0" fill="#6dbf72"/>
<rect x="530.65" y="57.5" width="1.15" height="2.5" fill="#f26d68"/>
<rect x="530.65" y="68.0" width="1.15" height="4.0" fill="#f26d68"/>
<rect x="532.62" y="65.0" width="1.15" height="3.0" fill="#f26d68"/>
<rect x="532.62" y="71.0" width="1.15" height="16.0" fill="#f26d68"/>
<rect x="534.60" y="36.0" width="1.15" height="12.0" fill="#6dbf72"/>
<rect x="534.60" y="71.0" width="1.15" height="4.0" fill="#6dbf72"/>
<rect x="536.56" y="68.0" width="1.15" height="4.0" fill="#f26d68"/>
<rect x="538.53" y="44.5" width="1.15" height="2.0" fill="#6dbf72"/>
<rect x="538.53" y="68.0" width="1.15" height="1.0" fill="#6dbf72"/>
<rect x="540.50" y="55.0" width="1.15" height="4.0" fill="#f26d68"/>
<rect x="542.47" y="36.0" width="1.15" height="5.0" fill="#6dbf72"/>
<rect x="542.47" y="55.0" width="1.15" height="1.5" fill="#6dbf72"/>
<rect x="544.44" y="38.5" width="1.15" height="2.5" fill="#f26d68"/>
<rect x="544.44" y="47.0" width="1.15" height="5.0" fill="#f26d68"/>
<rect x="546.41" y="10.0" width="1.15" height="2.8" fill="#6dbf72"/>
<rect x="546.41" y="47.0" width="1.15" height="1.5" fill="#6dbf72"/>
<rect x="548.38" y="11.3" width="1.15" height="1.5" fill="#f26d68"/>
<rect x="548.38" y="34.0" width="1.15" height="5.0" fill="#f26d68"/>
<rect x="550.36" y="30.0" width="1.15" height="4.0" fill="#f26d68"/>
<rect x="550.36" y="60.0" width="1.15" height="3.0" fill="#f26d68"/>
<rect x="552.32" y="57.5" width="1.15" height="2.5" fill="#f26d68"/>
<rect x="552.32" y="68.0" width="1.15" height="2.5" fill="#f26d68"/>
<rect x="554.29" y="65.5" width="1.15" height="2.5" fill="#f26d68"/>
<rect x="554.29" y="82.0" width="1.15" height="2.5" fill="#f26d68"/>
<rect x="556.26" y="78.0" width="1.15" height="4.0" fill="#f26d68"/>
<rect x="556.26" y="102.0" width="1.15" height="10.0" fill="#f26d68"/>
<rect x="558.23" y="90.0" width="1.15" height="7.0" fill="#6dbf72"/>
<rect x="558.23" y="102.0" width="1.15" height="5.0" fill="#6dbf72"/>
<rect x="560.20" y="90.0" width="1.15" height="4.0" fill="#6dbf72"/>
<rect x="560.20" y="97.0" width="1.15" height="1.0" fill="#6dbf72"/>
<rect x="562.17" y="92.5" width="1.15" height="1.5" fill="#f26d68"/>
<rect x="562.17" y="115.0" width="1.15" height="1.5" fill="#f26d68"/>
<rect x="564.14" y="114.0" width="1.15" height="1.0" fill="#f26d68"/>
<rect x="564.14" y="142.0" width="1.15" height="21.0" fill="#f26d68"/>
<rect x="566.12" y="90.0" width="1.15" height="9.0" fill="#6dbf72"/>
<rect x="566.12" y="142.0" width="1.15" height="16.5" fill="#6dbf72"/>
<rect x="568.08" y="94.0" width="1.15" height="5.0" fill="#f26d68"/>
<rect x="568.08" y="106.0" width="1.15" height="16.0" fill="#f26d68"/>
<rect x="570.05" y="101.0" width="1.15" height="5.0" fill="#f26d68"/>
<rect x="570.05" y="113.0" width="1.15" height="9.0" fill="#f26d68"/>
<rect x="572.02" y="109.5" width="1.15" height="1.5" fill="#6dbf72"/>
<rect x="572.02" y="113.0" width="1.15" height="2.0" fill="#6dbf72"/>
<rect x="573.99" y="78.0" width="1.15" height="2.0" fill="#6dbf72"/>
<rect x="573.99" y="111.0" width="1.15" height="8.0" fill="#6dbf72"/>
<rect x="575.96" y="55.0" width="1.15" height="11.0" fill="#6dbf72"/>
<rect x="575.96" y="80.0" width="1.15" height="3.0" fill="#6dbf72"/>
<rect x="577.93" y="65.0" width="1.15" height="1.0" fill="#f26d68"/>
<rect x="577.93" y="70.0" width="1.15" height="3.0" fill="#f26d68"/>
<rect x="579.90" y="61.0" width="1.15" height="2.0" fill="#6dbf72"/>
<rect x="579.90" y="70.0" width="1.15" height="3.0" fill="#6dbf72"/>
<rect x="581.88" y="60.5" width="1.15" height="2.5" fill="#f26d68"/>
<rect x="581.88" y="71.0" width="1.15" height="2.0" fill="#f26d68"/>
<rect x="583.84" y="75.0" width="1.15" height="4.0" fill="#f26d68"/>
<rect x="585.81" y="71.0" width="1.15" height="4.0" fill="#f26d68"/>
<rect x="585.81" y="86.0" width="1.15" height="4.0" fill="#f26d68"/>
<rect x="587.78" y="84.0" width="1.15" height="2.0" fill="#f26d68"/>
<rect x="587.78" y="105.0" width="1.15" height="4.0" fill="#f26d68"/>
<rect x="589.75" y="102.5" width="1.15" height="2.5" fill="#f26d68"/>
<rect x="589.75" y="125.0" width="1.15" height="27.0" fill="#f26d68"/>
<rect x="591.72" y="138.0" width="1.15" height="5.0" fill="#f26d68"/>
<rect x="593.69" y="104.5" width="1.15" height="19.5" fill="#6dbf72"/>
<rect x="593.69" y="138.0" width="1.15" height="3.0" fill="#6dbf72"/>
<rect x="595.66" y="122.5" width="1.15" height="1.5" fill="#f26d68"/>
<rect x="595.66" y="133.0" width="1.15" height="2.0" fill="#f26d68"/>
<rect x="597.63" y="132.0" width="1.15" height="1.0" fill="#f26d68"/>
<rect x="597.63" y="142.0" width="1.15" height="2.5" fill="#f26d68"/>
<rect x="599.61" y="140.0" width="1.15" height="2.0" fill="#f26d68"/>
<rect x="599.61" y="160.0" width="1.15" height="4.0" fill="#f26d68"/>
<rect x="601.57" y="156.0" width="1.15" height="4.0" fill="#f26d68"/>
<rect x="601.57" y="173.0" width="1.15" height="5.0" fill="#f26d68"/>
<rect x="603.54" y="169.0" width="1.15" height="4.0" fill="#f26d68"/>
<rect x="603.54" y="180.0" width="1.15" height="12.0" fill="#f26d68"/>
<rect x="605.51" y="180.0" width="1.15" height="1.5" fill="#6dbf72"/>
<rect x="607.48" y="182.0" width="1.15" height="4.0" fill="#f26d68"/>
<rect x="609.45" y="170.0" width="1.15" height="5.0" fill="#6dbf72"/>
<rect x="609.45" y="182.0" width="1.15" height="16.0" fill="#6dbf72"/>
<rect x="611.42" y="184.0" width="1.15" height="1.0" fill="#f26d68"/>
<rect x="613.39" y="180.0" width="1.15" height="4.0" fill="#f26d68"/>
<rect x="613.39" y="190.0" width="1.15" height="15.0" fill="#f26d68"/>
<rect x="615.37" y="188.0" width="1.15" height="2.0" fill="#f26d68"/>
<rect x="615.37" y="191.9" width="1.15" height="1.0" fill="#f26d68"/>
<rect x="617.33" y="184.0" width="1.15" height="2.0" fill="#6dbf72"/>
<rect x="617.33" y="191.9" width="1.15" height="1.5" fill="#6dbf72"/>
<rect x="619.30" y="181.5" width="1.15" height="1.5" fill="#6dbf72"/>
<rect x="619.30" y="186.0" width="1.15" height="1.0" fill="#6dbf72"/>
<rect x="621.27" y="178.0" width="1.15" height="5.0" fill="#f26d68"/>
<rect x="621.27" y="196.0" width="1.15" height="9.0" fill="#f26d68"/>
<rect x="625.21" y="164.5" width="1.15" height="1.5" fill="#6dbf72"/>
<rect x="625.21" y="180.0" width="1.15" height="33.6" fill="#6dbf72"/>
<rect x="627.18" y="170.0" width="1.15" height="2.5" fill="#f26d68"/>
<rect x="629.15" y="168.5" width="1.15" height="1.5" fill="#f26d68"/>
<rect x="629.15" y="176.0" width="1.15" height="2.5" fill="#f26d68"/>
<rect x="631.12" y="160.0" width="1.15" height="4.0" fill="#6dbf72"/>
<rect x="631.12" y="176.0" width="1.15" height="1.0" fill="#6dbf72"/>
<rect x="633.09" y="152.5" width="1.15" height="2.5" fill="#6dbf72"/>
<rect x="633.09" y="164.0" width="1.15" height="1.0" fill="#6dbf72"/>
<rect x="635.06" y="152.5" width="1.15" height="2.5" fill="#f26d68"/>
<rect x="635.06" y="165.0" width="1.15" height="2.0" fill="#f26d68"/>
<rect x="637.03" y="132.0" width="1.15" height="24.0" fill="#6dbf72"/>
<rect x="637.03" y="165.0" width="1.15" height="2.5" fill="#6dbf72"/>
<rect x="639.00" y="140.0" width="1.15" height="2.0" fill="#6dbf72"/>
<rect x="640.97" y="147.0" width="1.15" height="2.5" fill="#f26d68"/>
<rect x="642.94" y="139.0" width="1.15" height="5.0" fill="#6dbf72"/>
<rect x="642.94" y="147.0" width="1.15" height="2.5" fill="#6dbf72"/>
<rect x="644.91" y="135.0" width="1.15" height="9.0" fill="#f26d68"/>
<rect x="644.91" y="151.7" width="1.15" height="5.0" fill="#f26d68"/>
<rect x="646.88" y="149.7" width="1.15" height="2.0" fill="#f26d68"/>
<rect x="646.88" y="161.0" width="1.15" height="2.0" fill="#f26d68"/>
<rect x="648.85" y="183.0" width="1.15" height="6.0" fill="#f26d68"/>
<rect x="650.82" y="162.5" width="1.15" height="2.5" fill="#6dbf72"/>
<rect x="652.79" y="165.0" width="1.15" height="2.0" fill="#6dbf72"/>
<rect x="654.76" y="147.0" width="1.15" height="5.0" fill="#f26d68"/>
<rect x="654.76" y="158.0" width="1.15" height="4.0" fill="#f26d68"/>
<rect x="656.73" y="157.0" width="1.15" height="1.0" fill="#6dbf72"/>
<rect x="656.73" y="159.0" width="1.15" height="9.5" fill="#6dbf72"/>
<rect x="658.70" y="133.0" width="1.15" height="2.0" fill="#6dbf72"/>
<rect x="658.70" y="158.0" width="1.15" height="4.0" fill="#6dbf72"/>
<rect x="660.67" y="110.0" width="1.15" height="8.0" fill="#6dbf72"/>
<rect x="660.67" y="135.0" width="1.15" height="2.0" fill="#6dbf72"/>
<rect x="662.64" y="113.0" width="1.15" height="5.0" fill="#f26d68"/>
<rect x="664.62" y="120.0" width="1.15" height="4.0" fill="#f26d68"/>
<rect x="664.62" y="127.3" width="1.15" height="3.0" fill="#f26d68"/>
<rect x="666.58" y="123.3" width="1.15" height="4.0" fill="#f26d68"/>
<rect x="666.58" y="128.3" width="1.15" height="1.7" fill="#f26d68"/>
<rect x="668.55" y="128.0" width="1.15" height="2.5" fill="#6dbf72"/>
<rect x="670.52" y="100.0" width="1.15" height="22.0" fill="#f26d68"/>
<rect x="670.52" y="124.0" width="1.15" height="2.0" fill="#f26d68"/>
<rect x="672.50" y="119.0" width="1.15" height="5.0" fill="#f26d68"/>
<rect x="672.50" y="148.0" width="1.15" height="2.0" fill="#f26d68"/>
<rect x="674.46" y="145.5" width="1.15" height="2.5" fill="#f26d68"/>
<rect x="674.46" y="149.0" width="1.15" height="8.0" fill="#f26d68"/>
<rect x="676.43" y="143.6" width="1.15" height="2.0" fill="#6dbf72"/>
<rect x="676.43" y="149.0" width="1.15" height="2.5" fill="#6dbf72"/>
<rect x="678.40" y="143.1" width="1.15" height="2.5" fill="#f26d68"/>
<rect x="678.40" y="147.0" width="1.15" height="1.0" fill="#f26d68"/>
<rect x="680.38" y="138.0" width="1.15" height="6.0" fill="#6dbf72"/>
<rect x="680.38" y="147.0" width="1.15" height="1.5" fill="#6dbf72"/>
<rect x="682.34" y="142.0" width="1.15" height="2.0" fill="#f26d68"/>
<rect x="682.34" y="160.0" width="1.15" height="5.0" fill="#f26d68"/>
<rect x="684.31" y="156.0" width="1.15" height="4.0" fill="#f26d68"/>
<rect x="686.28" y="184.5" width="1.15" height="1.5" fill="#f26d68"/>
<rect x="686.28" y="206.0" width="1.15" height="6.0" fill="#f26d68"/>
<rect x="688.25" y="206.0" width="1.15" height="2.0" fill="#6dbf72"/>
<rect x="690.22" y="200.0" width="1.15" height="1.5" fill="#6dbf72"/>
<rect x="692.19" y="192.0" width="1.15" height="6.0" fill="#f26d68"/>
<rect x="694.16" y="205.0" width="1.15" height="1.5" fill="#6dbf72"/>
<rect x="696.13" y="194.0" width="1.15" height="4.0" fill="#f26d68"/>
<rect x="696.13" y="216.0" width="1.15" height="9.0" fill="#f26d68"/>
<rect x="698.10" y="212.8" width="1.15" height="3.0" fill="#6dbf72"/>
<rect x="700.07" y="207.0" width="1.15" height="1.0" fill="#6dbf72"/>
<rect x="700.07" y="215.8" width="1.15" height="1.5" fill="#6dbf72"/>
<rect x="702.04" y="199.0" width="1.15" height="3.0" fill="#6dbf72"/>
<rect x="702.04" y="208.0" width="1.15" height="2.0" fill="#6dbf72"/>
<rect x="704.01" y="195.0" width="1.15" height="7.0" fill="#f26d68"/>
<rect x="704.01" y="207.0" width="1.15" height="5.0" fill="#f26d68"/>
<rect x="705.98" y="207.0" width="1.15" height="2.5" fill="#6dbf72"/>
<rect x="707.95" y="170.0" width="1.15" height="4.0" fill="#6dbf72"/>
<rect x="707.95" y="188.0" width="1.15" height="3.0" fill="#6dbf72"/>
<rect x="709.92" y="171.0" width="1.15" height="3.0" fill="#f26d68"/>
<rect x="709.92" y="202.0" width="1.15" height="7.0" fill="#f26d68"/>
<rect x="0.35" y="180.3" width="1.9" height="13.7" fill="#4caf50"/>
<rect x="2.32" y="166.0" width="1.9" height="14.3" fill="#4caf50"/>
<rect x="4.29" y="166.0" width="1.9" height="63.0" fill="#f0453f"/>
<rect x="6.26" y="225.0" width="1.9" height="4.0" fill="#4caf50"/>
<rect x="8.23" y="220.0" width="1.9" height="5.0" fill="#4caf50"/>
<rect x="10.20" y="217.6" width="1.9" height="2.4" fill="#4caf50"/>
<rect x="12.17" y="211.5" width="1.9" height="6.2" fill="#4caf50"/>
<rect x="14.14" y="197.0" width="1.9" height="14.5" fill="#4caf50"/>
<rect x="16.11" y="197.0" width="1.9" height="16.0" fill="#f0453f"/>
<rect x="18.08" y="200.0" width="1.9" height="13.0" fill="#4caf50"/>
<rect x="20.05" y="193.1" width="1.9" height="6.9" fill="#4caf50"/>
<rect x="22.02" y="193.0" width="1.9" height="1.0" fill="#4caf50"/>
<rect x="23.99" y="193.0" width="1.9" height="12.0" fill="#f0453f"/>
<rect x="25.96" y="205.0" width="1.9" height="17.0" fill="#f0453f"/>
<rect x="27.93" y="200.0" width="1.9" height="22.0" fill="#4caf50"/>
<rect x="29.90" y="178.0" width="1.9" height="22.0" fill="#4caf50"/>
<rect x="31.87" y="178.0" width="1.9" height="6.0" fill="#f0453f"/>
<rect x="33.84" y="181.6" width="1.9" height="2.4" fill="#4caf50"/>
<rect x="35.81" y="180.0" width="1.9" height="1.6" fill="#4caf50"/>
<rect x="37.78" y="172.0" width="1.9" height="8.0" fill="#4caf50"/>
<rect x="39.75" y="163.0" width="1.9" height="9.0" fill="#4caf50"/>
<rect x="41.72" y="163.0" width="1.9" height="5.0" fill="#f0453f"/>
<rect x="43.69" y="127.0" width="1.9" height="41.0" fill="#4caf50"/>
<rect x="45.66" y="113.0" width="1.9" height="14.0" fill="#4caf50"/>
<rect x="47.63" y="97.0" width="1.9" height="16.0" fill="#4caf50"/>
<rect x="49.60" y="97.0" width="1.9" height="8.0" fill="#f0453f"/>
<rect x="51.57" y="105.0" width="1.9" height="13.0" fill="#f0453f"/>
<rect x="53.54" y="118.0" width="1.9" height="10.0" fill="#f0453f"/>
<rect x="55.51" y="124.0" width="1.9" height="4.0" fill="#4caf50"/>
<rect x="57.48" y="114.0" width="1.9" height="10.0" fill="#4caf50"/>
<rect x="59.45" y="107.0" width="1.9" height="7.0" fill="#4caf50"/>
<rect x="61.42" y="107.0" width="1.9" height="14.0" fill="#f0453f"/>
<rect x="63.39" y="110.0" width="1.9" height="11.0" fill="#4caf50"/>
<rect x="65.36" y="110.0" width="1.9" height="6.0" fill="#f0453f"/>
<rect x="67.33" y="105.0" width="1.9" height="11.0" fill="#4caf50"/>
<rect x="69.30" y="105.0" width="1.9" height="6.0" fill="#f0453f"/>
<rect x="71.27" y="103.0" width="1.9" height="8.0" fill="#4caf50"/>
<rect x="73.24" y="103.0" width="1.9" height="6.0" fill="#f0453f"/>
<rect x="75.21" y="109.0" width="1.9" height="12.2" fill="#f0453f"/>
<rect x="77.18" y="121.2" width="1.9" height="3.8" fill="#f0453f"/>
<rect x="79.15" y="125.0" width="1.9" height="15.0" fill="#f0453f"/>
<rect x="81.12" y="140.0" width="1.9" height="20.0" fill="#f0453f"/>
<rect x="83.09" y="158.0" width="1.9" height="2.0" fill="#4caf50"/>
<rect x="85.06" y="155.0" width="1.9" height="3.0" fill="#4caf50"/>
<rect x="87.03" y="155.0" width="1.9" height="40.0" fill="#f0453f"/>
<rect x="89.00" y="195.0" width="1.9" height="43.0" fill="#f0453f"/>
<rect x="90.97" y="232.0" width="1.9" height="6.0" fill="#4caf50"/>
<rect x="92.94" y="232.0" width="1.9" height="1.0" fill="#f0453f"/>
<rect x="94.91" y="226.0" width="1.9" height="6.4" fill="#4caf50"/>
<rect x="96.88" y="206.0" width="1.9" height="20.0" fill="#4caf50"/>
<rect x="98.85" y="206.0" width="1.9" height="16.0" fill="#f0453f"/>
<rect x="100.82" y="222.0" width="1.9" height="17.0" fill="#f0453f"/>
<rect x="102.79" y="239.0" width="1.9" height="3.7" fill="#f0453f"/>
<rect x="104.76" y="242.7" width="1.9" height="1.0" fill="#f0453f"/>
<rect x="106.73" y="243.0" width="1.9" height="2.0" fill="#f0453f"/>
<rect x="108.70" y="235.0" width="1.9" height="10.0" fill="#4caf50"/>
<rect x="110.67" y="235.0" width="1.9" height="10.0" fill="#f0453f"/>
<rect x="112.64" y="245.0" width="1.9" height="28.0" fill="#f0453f"/>
<rect x="114.61" y="269.2" width="1.9" height="3.8" fill="#4caf50"/>
<rect x="116.58" y="265.0" width="1.9" height="4.2" fill="#4caf50"/>
<rect x="118.55" y="257.0" width="1.9" height="8.0" fill="#4caf50"/>
<rect x="120.52" y="257.0" width="1.9" height="11.5" fill="#f0453f"/>
<rect x="122.49" y="268.5" width="1.9" height="9.5" fill="#f0453f"/>
<rect x="124.46" y="278.0" width="1.9" height="22.0" fill="#f0453f"/>
<rect x="126.43" y="297.4" width="1.9" height="2.6" fill="#4caf50"/>
<rect x="128.40" y="297.4" width="1.9" height="4.6" fill="#f0453f"/>
<rect x="130.37" y="292.0" width="1.9" height="10.0" fill="#4caf50"/>
<rect x="132.34" y="280.0" width="1.9" height="12.0" fill="#4caf50"/>
<rect x="134.31" y="274.0" width="1.9" height="6.0" fill="#4caf50"/>
<rect x="136.28" y="272.5" width="1.9" height="1.5" fill="#4caf50"/>
<rect x="138.25" y="272.5" width="1.9" height="5.5" fill="#f0453f"/>
<rect x="140.22" y="278.0" width="1.9" height="2.0" fill="#f0453f"/>
<rect x="142.19" y="280.0" width="1.9" height="2.9" fill="#f0453f"/>
<rect x="144.16" y="279.2" width="1.9" height="3.7" fill="#4caf50"/>
<rect x="146.13" y="279.0" width="1.9" height="1.0" fill="#4caf50"/>
<rect x="148.10" y="279.0" width="1.9" height="18.0" fill="#f0453f"/>
<rect x="150.07" y="297.0" width="1.9" height="15.0" fill="#f0453f"/>
<rect x="152.04" y="307.4" width="1.9" height="4.6" fill="#4caf50"/>
<rect x="154.01" y="307.4" width="1.9" height="1.6" fill="#f0453f"/>
<rect x="155.98" y="306.0" width="1.9" height="3.0" fill="#4caf50"/>
<rect x="157.95" y="306.0" width="1.9" height="7.8" fill="#f0453f"/>
<rect x="159.92" y="313.8" width="1.9" height="4.2" fill="#f0453f"/>
<rect x="161.89" y="318.0" width="1.9" height="9.0" fill="#f0453f"/>
<rect x="163.86" y="325.1" width="1.9" height="1.9" fill="#4caf50"/>
<rect x="165.83" y="320.0" width="1.9" height="5.1" fill="#4caf50"/>
<rect x="167.80" y="320.0" width="1.9" height="4.2" fill="#f0453f"/>
<rect x="169.77" y="324.2" width="1.9" height="3.8" fill="#f0453f"/>
<rect x="171.74" y="310.0" width="1.9" height="18.0" fill="#4caf50"/>
<rect x="173.71" y="298.0" width="1.9" height="12.0" fill="#4caf50"/>
<rect x="175.68" y="294.0" width="1.9" height="4.0" fill="#4caf50"/>
<rect x="177.65" y="293.0" width="1.9" height="1.0" fill="#4caf50"/>
<rect x="179.62" y="293.0" width="1.9" height="7.0" fill="#f0453f"/>
<rect x="181.59" y="278.0" width="1.9" height="22.0" fill="#4caf50"/>
<rect x="183.56" y="257.0" width="1.9" height="21.0" fill="#4caf50"/>
<rect x="185.53" y="252.0" width="1.9" height="5.0" fill="#4caf50"/>
<rect x="187.50" y="248.0" width="1.9" height="4.0" fill="#4caf50"/>
<rect x="189.47" y="248.0" width="1.9" height="1.1" fill="#f0453f"/>
<rect x="191.44" y="245.0" width="1.9" height="4.1" fill="#4caf50"/>
<rect x="193.41" y="245.0" width="1.9" height="4.0" fill="#f0453f"/>
<rect x="195.38" y="218.0" width="1.9" height="31.0" fill="#4caf50"/>
<rect x="197.35" y="218.0" width="1.9" height="7.0" fill="#f0453f"/>
<rect x="199.32" y="225.0" width="1.9" height="3.5" fill="#f0453f"/>
<rect x="201.29" y="228.5" width="1.9" height="5.5" fill="#f0453f"/>
<rect x="203.26" y="227.0" width="1.9" height="7.0" fill="#4caf50"/>
<rect x="205.23" y="225.5" width="1.9" height="1.5" fill="#4caf50"/>
<rect x="207.20" y="219.0" width="1.9" height="6.5" fill="#4caf50"/>
<rect x="209.17" y="218.1" width="1.9" height="1.0" fill="#4caf50"/>
<rect x="211.14" y="218.1" width="1.9" height="6.9" fill="#f0453f"/>
<rect x="213.11" y="225.0" width="1.9" height="6.0" fill="#f0453f"/>
<rect x="215.08" y="231.0" width="1.9" height="8.1" fill="#f0453f"/>
<rect x="217.05" y="239.1" width="1.9" height="1.0" fill="#f0453f"/>
<rect x="219.02" y="228.0" width="1.9" height="12.0" fill="#4caf50"/>
<rect x="220.99" y="228.0" width="1.9" height="1.0" fill="#f0453f"/>
<rect x="222.96" y="224.3" width="1.9" height="4.7" fill="#4caf50"/>
<rect x="224.93" y="224.3" width="1.9" height="1.0" fill="#f0453f"/>
<rect x="226.90" y="212.0" width="1.9" height="13.0" fill="#4caf50"/>
<rect x="228.87" y="212.0" width="1.9" height="16.0" fill="#f0453f"/>
<rect x="230.84" y="228.0" width="1.9" height="10.0" fill="#f0453f"/>
<rect x="232.81" y="238.0" width="1.9" height="9.0" fill="#f0453f"/>
<rect x="234.78" y="243.0" width="1.9" height="4.0" fill="#4caf50"/>
<rect x="236.75" y="241.0" width="1.9" height="2.0" fill="#4caf50"/>
<rect x="238.72" y="241.0" width="1.9" height="4.0" fill="#f0453f"/>
<rect x="240.69" y="245.0" width="1.9" height="3.0" fill="#f0453f"/>
<rect x="242.66" y="248.0" width="1.9" height="27.0" fill="#f0453f"/>
<rect x="244.63" y="275.0" width="1.9" height="25.0" fill="#f0453f"/>
<rect x="246.60" y="300.0" width="1.9" height="6.0" fill="#f0453f"/>
<rect x="248.57" y="288.0" width="1.9" height="18.0" fill="#4caf50"/>
<rect x="250.54" y="288.0" width="1.9" height="7.7" fill="#f0453f"/>
<rect x="252.51" y="295.7" width="1.9" height="4.3" fill="#f0453f"/>
<rect x="254.48" y="300.0" width="1.9" height="12.0" fill="#f0453f"/>
<rect x="256.45" y="308.0" width="1.9" height="4.0" fill="#4caf50"/>
<rect x="258.42" y="308.0" width="1.9" height="2.0" fill="#f0453f"/>
<rect x="260.39" y="301.0" width="1.9" height="9.0" fill="#4caf50"/>
<rect x="262.36" y="301.0" width="1.9" height="1.0" fill="#f0453f"/>
<rect x="264.33" y="301.1" width="1.9" height="1.9" fill="#f0453f"/>
<rect x="266.30" y="300.6" width="1.9" height="2.4" fill="#4caf50"/>
<rect x="268.27" y="296.0" width="1.9" height="4.6" fill="#4caf50"/>
<rect x="270.24" y="296.0" width="1.9" height="5.0" fill="#f0453f"/>
<rect x="272.21" y="301.0" width="1.9" height="5.0" fill="#f0453f"/>
<rect x="274.18" y="306.0" width="1.9" height="10.0" fill="#f0453f"/>
<rect x="276.15" y="316.0" width="1.9" height="7.5" fill="#f0453f"/>
<rect x="278.12" y="323.5" width="1.9" height="1.5" fill="#f0453f"/>
<rect x="280.09" y="320.0" width="1.9" height="5.0" fill="#4caf50"/>
<rect x="282.06" y="315.6" width="1.9" height="4.4" fill="#4caf50"/>
<rect x="284.03" y="315.6" width="1.9" height="1.0" fill="#f0453f"/>
<rect x="286.00" y="310.7" width="1.9" height="5.3" fill="#4caf50"/>
<rect x="287.97" y="310.7" width="1.9" height="1.3" fill="#f0453f"/>
<rect x="289.94" y="312.0" width="1.9" height="1.0" fill="#f0453f"/>
<rect x="291.91" y="310.6" width="1.9" height="2.4" fill="#4caf50"/>
<rect x="293.88" y="310.0" width="1.9" height="1.0" fill="#4caf50"/>
<rect x="295.85" y="309.0" width="1.9" height="1.0" fill="#4caf50"/>
<rect x="297.82" y="309.0" width="1.9" height="13.0" fill="#f0453f"/>
<rect x="299.79" y="322.0" width="1.9" height="13.0" fill="#f0453f"/>
<rect x="301.76" y="318.0" width="1.9" height="17.0" fill="#4caf50"/>
<rect x="303.73" y="303.0" width="1.9" height="15.0" fill="#4caf50"/>
<rect x="305.70" y="298.0" width="1.9" height="5.0" fill="#4caf50"/>
<rect x="307.67" y="298.0" width="1.9" height="6.0" fill="#f0453f"/>
<rect x="309.64" y="304.0" width="1.9" height="2.0" fill="#f0453f"/>
<rect x="311.61" y="283.0" width="1.9" height="23.0" fill="#4caf50"/>
<rect x="313.58" y="222.0" width="1.9" height="61.0" fill="#4caf50"/>
<rect x="315.55" y="222.0" width="1.9" height="10.0" fill="#f0453f"/>
<rect x="317.52" y="219.0" width="1.9" height="13.0" fill="#4caf50"/>
<rect x="319.49" y="219.0" width="1.9" height="10.0" fill="#f0453f"/>
<rect x="321.46" y="217.0" width="1.9" height="12.0" fill="#4caf50"/>
<rect x="323.43" y="217.0" width="1.9" height="9.0" fill="#f0453f"/>
<rect x="325.40" y="212.0" width="1.9" height="14.0" fill="#4caf50"/>
<rect x="327.37" y="212.0" width="1.9" height="12.0" fill="#f0453f"/>
<rect x="329.34" y="218.0" width="1.9" height="6.0" fill="#4caf50"/>
<rect x="331.31" y="218.0" width="1.9" height="11.0" fill="#f0453f"/>
<rect x="333.28" y="226.0" width="1.9" height="3.0" fill="#4caf50"/>
<rect x="335.25" y="185.0" width="1.9" height="41.0" fill="#4caf50"/>
<rect x="337.22" y="185.0" width="1.9" height="15.0" fill="#f0453f"/>
<rect x="339.19" y="200.0" width="1.9" height="24.0" fill="#f0453f"/>
<rect x="341.16" y="214.0" width="1.9" height="10.0" fill="#4caf50"/>
<rect x="343.13" y="211.4" width="1.9" height="2.6" fill="#4caf50"/>
<rect x="345.10" y="206.0" width="1.9" height="5.4" fill="#4caf50"/>
<rect x="347.07" y="196.0" width="1.9" height="10.0" fill="#4caf50"/>
<rect x="349.04" y="195.4" width="1.9" height="1.0" fill="#4caf50"/>
<rect x="351.01" y="186.0" width="1.9" height="9.4" fill="#4caf50"/>
<rect x="352.98" y="186.0" width="1.9" height="2.7" fill="#f0453f"/>
<rect x="354.95" y="187.0" width="1.9" height="1.7" fill="#4caf50"/>
<rect x="356.92" y="186.0" width="1.9" height="1.0" fill="#4caf50"/>
<rect x="358.89" y="186.0" width="1.9" height="24.0" fill="#f0453f"/>
<rect x="360.86" y="210.0" width="1.9" height="42.0" fill="#f0453f"/>
<rect x="362.83" y="252.0" width="1.9" height="1.0" fill="#f0453f"/>
<rect x="364.80" y="245.0" width="1.9" height="7.2" fill="#4caf50"/>
<rect x="366.77" y="240.0" width="1.9" height="5.0" fill="#4caf50"/>
<rect x="368.74" y="226.0" width="1.9" height="14.0" fill="#4caf50"/>
<rect x="370.71" y="226.0" width="1.9" height="14.0" fill="#f0453f"/>
<rect x="372.68" y="240.0" width="1.9" height="12.0" fill="#f0453f"/>
<rect x="374.65" y="241.6" width="1.9" height="10.4" fill="#4caf50"/>
<rect x="376.62" y="240.0" width="1.9" height="1.6" fill="#4caf50"/>
<rect x="378.59" y="230.0" width="1.9" height="10.0" fill="#4caf50"/>
<rect x="380.56" y="219.6" width="1.9" height="10.4" fill="#4caf50"/>
<rect x="382.53" y="215.0" width="1.9" height="4.6" fill="#4caf50"/>
<rect x="384.50" y="202.0" width="1.9" height="13.0" fill="#4caf50"/>
<rect x="386.47" y="201.0" width="1.9" height="1.0" fill="#4caf50"/>
<rect x="388.44" y="196.8" width="1.9" height="4.2" fill="#4caf50"/>
<rect x="390.41" y="196.8" width="1.9" height="4.2" fill="#f0453f"/>
<rect x="392.38" y="201.0" width="1.9" height="9.0" fill="#f0453f"/>
<rect x="394.35" y="210.0" width="1.9" height="6.0" fill="#f0453f"/>
<rect x="396.32" y="200.0" width="1.9" height="16.0" fill="#4caf50"/>
<rect x="398.29" y="136.0" width="1.9" height="64.0" fill="#4caf50"/>
<rect x="400.26" y="136.0" width="1.9" height="15.0" fill="#f0453f"/>
<rect x="402.23" y="141.0" width="1.9" height="10.0" fill="#4caf50"/>
<rect x="404.20" y="141.0" width="1.9" height="18.0" fill="#f0453f"/>
<rect x="406.17" y="149.0" width="1.9" height="10.0" fill="#4caf50"/>
<rect x="408.14" y="149.0" width="1.9" height="32.0" fill="#f0453f"/>
<rect x="410.11" y="165.0" width="1.9" height="16.0" fill="#4caf50"/>
<rect x="412.08" y="93.0" width="1.9" height="72.0" fill="#4caf50"/>
<rect x="414.05" y="93.0" width="1.9" height="7.0" fill="#f0453f"/>
<rect x="416.02" y="89.0" width="1.9" height="11.0" fill="#4caf50"/>
<rect x="417.99" y="89.0" width="1.9" height="13.0" fill="#f0453f"/>
<rect x="419.96" y="102.0" width="1.9" height="72.0" fill="#f0453f"/>
<rect x="421.93" y="169.0" width="1.9" height="5.0" fill="#4caf50"/>
<rect x="423.90" y="169.0" width="1.9" height="8.0" fill="#f0453f"/>
<rect x="425.87" y="168.0" width="1.9" height="9.0" fill="#4caf50"/>
<rect x="427.84" y="158.0" width="1.9" height="10.0" fill="#4caf50"/>
<rect x="429.81" y="148.0" width="1.9" height="10.0" fill="#4caf50"/>
<rect x="431.78" y="124.0" width="1.9" height="24.0" fill="#4caf50"/>
<rect x="433.75" y="124.0" width="1.9" height="10.0" fill="#f0453f"/>
<rect x="435.72" y="134.0" width="1.9" height="6.0" fill="#f0453f"/>
<rect x="437.69" y="140.0" width="1.9" height="1.0" fill="#4caf50"/>
<rect x="439.66" y="134.0" width="1.9" height="6.0" fill="#4caf50"/>
<rect x="441.63" y="128.0" width="1.9" height="6.0" fill="#4caf50"/>
<rect x="443.60" y="127.0" width="1.9" height="1.0" fill="#4caf50"/>
<rect x="445.57" y="127.0" width="1.9" height="3.6" fill="#f0453f"/>
<rect x="447.54" y="128.0" width="1.9" height="2.6" fill="#4caf50"/>
<rect x="449.51" y="128.0" width="1.9" height="15.0" fill="#f0453f"/>
<rect x="451.48" y="143.0" width="1.9" height="3.3" fill="#f0453f"/>
<rect x="453.45" y="146.3" width="1.9" height="11.7" fill="#f0453f"/>
<rect x="455.42" y="158.0" width="1.9" height="14.0" fill="#f0453f"/>
<rect x="457.39" y="168.0" width="1.9" height="4.0" fill="#4caf50"/>
<rect x="459.36" y="168.0" width="1.9" height="1.0" fill="#f0453f"/>
<rect x="461.33" y="163.0" width="1.9" height="5.0" fill="#4caf50"/>
<rect x="463.30" y="150.0" width="1.9" height="13.0" fill="#4caf50"/>
<rect x="465.27" y="145.0" width="1.9" height="5.0" fill="#4caf50"/>
<rect x="467.24" y="145.0" width="1.9" height="23.0" fill="#f0453f"/>
<rect x="469.21" y="162.0" width="1.9" height="6.0" fill="#4caf50"/>
<rect x="471.18" y="162.0" width="1.9" height="1.2" fill="#f0453f"/>
<rect x="473.15" y="163.2" width="1.9" height="2.8" fill="#f0453f"/>
<rect x="475.12" y="165.0" width="1.9" height="1.0" fill="#4caf50"/>
<rect x="477.09" y="165.0" width="1.9" height="40.0" fill="#f0453f"/>
<rect x="479.06" y="205.0" width="1.9" height="17.0" fill="#f0453f"/>
<rect x="481.03" y="222.0" width="1.9" height="13.0" fill="#f0453f"/>
<rect x="483.00" y="228.0" width="1.9" height="7.0" fill="#4caf50"/>
<rect x="484.97" y="220.0" width="1.9" height="8.0" fill="#4caf50"/>
<rect x="486.94" y="219.0" width="1.9" height="1.0" fill="#4caf50"/>
<rect x="488.91" y="212.0" width="1.9" height="7.0" fill="#4caf50"/>
<rect x="490.88" y="206.0" width="1.9" height="6.0" fill="#4caf50"/>
<rect x="492.85" y="206.0" width="1.9" height="2.0" fill="#f0453f"/>
<rect x="494.82" y="208.0" width="1.9" height="1.0" fill="#f0453f"/>
<rect x="496.79" y="209.0" width="1.9" height="9.0" fill="#f0453f"/>
<rect x="498.76" y="217.9" width="1.9" height="1.0" fill="#4caf50"/>
<rect x="500.73" y="217.9" width="1.9" height="8.1" fill="#f0453f"/>
<rect x="502.70" y="216.0" width="1.9" height="10.0" fill="#4caf50"/>
<rect x="504.67" y="206.0" width="1.9" height="10.0" fill="#4caf50"/>
<rect x="506.64" y="201.9" width="1.9" height="4.1" fill="#4caf50"/>
<rect x="508.61" y="198.0" width="1.9" height="3.9" fill="#4caf50"/>
<rect x="510.58" y="198.0" width="1.9" height="1.0" fill="#4caf50"/>
<rect x="512.55" y="190.0" width="1.9" height="8.0" fill="#4caf50"/>
<rect x="514.52" y="178.0" width="1.9" height="12.0" fill="#4caf50"/>
<rect x="516.49" y="167.0" width="1.9" height="11.0" fill="#4caf50"/>
<rect x="518.46" y="143.0" width="1.9" height="24.0" fill="#4caf50"/>
<rect x="520.43" y="125.0" width="1.9" height="18.0" fill="#4caf50"/>
<rect x="522.40" y="105.0" width="1.9" height="20.0" fill="#4caf50"/>
<rect x="524.37" y="86.0" width="1.9" height="19.0" fill="#4caf50"/>
<rect x="526.34" y="80.0" width="1.9" height="6.0" fill="#4caf50"/>
<rect x="528.31" y="60.0" width="1.9" height="20.0" fill="#4caf50"/>
<rect x="530.28" y="60.0" width="1.9" height="8.0" fill="#f0453f"/>
<rect x="532.25" y="68.0" width="1.9" height="3.0" fill="#f0453f"/>
<rect x="534.22" y="48.0" width="1.9" height="23.0" fill="#4caf50"/>
<rect x="536.19" y="48.0" width="1.9" height="20.0" fill="#f0453f"/>
<rect x="538.16" y="46.5" width="1.9" height="21.5" fill="#4caf50"/>
<rect x="540.13" y="46.5" width="1.9" height="8.5" fill="#f0453f"/>
<rect x="542.10" y="41.0" width="1.9" height="14.0" fill="#4caf50"/>
<rect x="544.07" y="41.0" width="1.9" height="6.0" fill="#f0453f"/>
<rect x="546.04" y="12.8" width="1.9" height="34.2" fill="#4caf50"/>
<rect x="548.01" y="12.8" width="1.9" height="21.2" fill="#f0453f"/>
<rect x="549.98" y="34.0" width="1.9" height="26.0" fill="#f0453f"/>
<rect x="551.95" y="60.0" width="1.9" height="8.0" fill="#f0453f"/>
<rect x="553.92" y="68.0" width="1.9" height="14.0" fill="#f0453f"/>
<rect x="555.89" y="82.0" width="1.9" height="20.0" fill="#f0453f"/>
<rect x="557.86" y="97.0" width="1.9" height="5.0" fill="#4caf50"/>
<rect x="559.83" y="94.0" width="1.9" height="3.0" fill="#4caf50"/>
<rect x="561.80" y="94.0" width="1.9" height="21.0" fill="#f0453f"/>
<rect x="563.77" y="115.0" width="1.9" height="27.0" fill="#f0453f"/>
<rect x="565.74" y="99.0" width="1.9" height="43.0" fill="#4caf50"/>
<rect x="567.71" y="99.0" width="1.9" height="7.0" fill="#f0453f"/>
<rect x="569.68" y="106.0" width="1.9" height="7.0" fill="#f0453f"/>
<rect x="571.65" y="111.0" width="1.9" height="2.0" fill="#4caf50"/>
<rect x="573.62" y="80.0" width="1.9" height="31.0" fill="#4caf50"/>
<rect x="575.59" y="66.0" width="1.9" height="14.0" fill="#4caf50"/>
<rect x="577.56" y="66.0" width="1.9" height="4.0" fill="#f0453f"/>
<rect x="579.53" y="63.0" width="1.9" height="7.0" fill="#4caf50"/>
<rect x="581.50" y="63.0" width="1.9" height="8.0" fill="#f0453f"/>
<rect x="583.47" y="71.0" width="1.9" height="4.0" fill="#f0453f"/>
<rect x="585.44" y="75.0" width="1.9" height="11.0" fill="#f0453f"/>
<rect x="587.41" y="86.0" width="1.9" height="19.0" fill="#f0453f"/>
<rect x="589.38" y="105.0" width="1.9" height="20.0" fill="#f0453f"/>
<rect x="591.35" y="125.0" width="1.9" height="13.0" fill="#f0453f"/>
<rect x="593.32" y="124.0" width="1.9" height="14.0" fill="#4caf50"/>
<rect x="595.29" y="124.0" width="1.9" height="9.0" fill="#f0453f"/>
<rect x="597.26" y="133.0" width="1.9" height="9.0" fill="#f0453f"/>
<rect x="599.23" y="142.0" width="1.9" height="18.0" fill="#f0453f"/>
<rect x="601.20" y="160.0" width="1.9" height="13.0" fill="#f0453f"/>
<rect x="603.17" y="173.0" width="1.9" height="7.0" fill="#f0453f"/>
<rect x="605.14" y="171.0" width="1.9" height="9.0" fill="#4caf50"/>
<rect x="607.11" y="171.0" width="1.9" height="11.0" fill="#f0453f"/>
<rect x="609.08" y="175.0" width="1.9" height="7.0" fill="#4caf50"/>
<rect x="611.05" y="175.0" width="1.9" height="9.0" fill="#f0453f"/>
<rect x="613.02" y="184.0" width="1.9" height="6.0" fill="#f0453f"/>
<rect x="614.99" y="190.0" width="1.9" height="1.9" fill="#f0453f"/>
<rect x="616.96" y="186.0" width="1.9" height="5.9" fill="#4caf50"/>
<rect x="618.93" y="183.0" width="1.9" height="3.0" fill="#4caf50"/>
<rect x="620.90" y="183.0" width="1.9" height="13.0" fill="#f0453f"/>
<rect x="622.87" y="180.0" width="1.9" height="16.0" fill="#4caf50"/>
<rect x="624.84" y="166.0" width="1.9" height="14.0" fill="#4caf50"/>
<rect x="626.81" y="166.0" width="1.9" height="4.0" fill="#f0453f"/>
<rect x="628.78" y="170.0" width="1.9" height="6.0" fill="#f0453f"/>
<rect x="630.75" y="164.0" width="1.9" height="12.0" fill="#4caf50"/>
<rect x="632.72" y="155.0" width="1.9" height="9.0" fill="#4caf50"/>
<rect x="634.69" y="155.0" width="1.9" height="10.0" fill="#f0453f"/>
<rect x="636.66" y="156.0" width="1.9" height="9.0" fill="#4caf50"/>
<rect x="638.63" y="142.0" width="1.9" height="14.0" fill="#4caf50"/>
<rect x="640.60" y="142.0" width="1.9" height="5.0" fill="#f0453f"/>
<rect x="642.57" y="144.0" width="1.9" height="3.0" fill="#4caf50"/>
<rect x="644.54" y="144.0" width="1.9" height="7.7" fill="#f0453f"/>
<rect x="646.51" y="151.7" width="1.9" height="9.3" fill="#f0453f"/>
<rect x="648.48" y="161.0" width="1.9" height="22.0" fill="#f0453f"/>
<rect x="650.45" y="165.0" width="1.9" height="18.0" fill="#4caf50"/>
<rect x="652.42" y="152.0" width="1.9" height="13.0" fill="#4caf50"/>
<rect x="654.39" y="152.0" width="1.9" height="6.0" fill="#f0453f"/>
<rect x="656.36" y="158.0" width="1.9" height="1.0" fill="#4caf50"/>
<rect x="658.33" y="135.0" width="1.9" height="23.0" fill="#4caf50"/>
<rect x="660.30" y="118.0" width="1.9" height="17.0" fill="#4caf50"/>
<rect x="662.27" y="118.0" width="1.9" height="6.0" fill="#f0453f"/>
<rect x="664.24" y="124.0" width="1.9" height="3.3" fill="#f0453f"/>
<rect x="666.21" y="127.3" width="1.9" height="1.0" fill="#f0453f"/>
<rect x="668.18" y="122.0" width="1.9" height="6.0" fill="#4caf50"/>
<rect x="670.15" y="122.0" width="1.9" height="2.0" fill="#f0453f"/>
<rect x="672.12" y="124.0" width="1.9" height="24.0" fill="#f0453f"/>
<rect x="674.09" y="148.0" width="1.9" height="1.0" fill="#f0453f"/>
<rect x="676.06" y="145.6" width="1.9" height="3.4" fill="#4caf50"/>
<rect x="678.03" y="145.6" width="1.9" height="1.4" fill="#f0453f"/>
<rect x="680.00" y="144.0" width="1.9" height="3.0" fill="#4caf50"/>
<rect x="681.97" y="144.0" width="1.9" height="16.0" fill="#f0453f"/>
<rect x="683.94" y="160.0" width="1.9" height="26.0" fill="#f0453f"/>
<rect x="685.91" y="186.0" width="1.9" height="20.0" fill="#f0453f"/>
<rect x="687.88" y="200.0" width="1.9" height="6.0" fill="#4caf50"/>
<rect x="689.85" y="198.0" width="1.9" height="2.0" fill="#4caf50"/>
<rect x="691.82" y="198.0" width="1.9" height="7.0" fill="#f0453f"/>
<rect x="693.79" y="198.0" width="1.9" height="7.0" fill="#4caf50"/>
<rect x="695.76" y="198.0" width="1.9" height="18.0" fill="#f0453f"/>
<rect x="697.73" y="215.8" width="1.9" height="1.0" fill="#4caf50"/>
<rect x="699.70" y="208.0" width="1.9" height="7.8" fill="#4caf50"/>
<rect x="701.67" y="202.0" width="1.9" height="6.0" fill="#4caf50"/>
<rect x="703.64" y="202.0" width="1.9" height="5.0" fill="#f0453f"/>
<rect x="705.61" y="188.0" width="1.9" height="19.0" fill="#4caf50"/>
<rect x="707.58" y="174.0" width="1.9" height="14.0" fill="#4caf50"/>
<rect x="709.55" y="174.0" width="1.9" height="28.0" fill="#f0453f"/>
</g>
<line x1="0" y1="201.5" x2="885" y2="201.5" stroke="#e5201f" stroke-width="1.4" stroke-dasharray="1.1,1.1"/>
<line x1="545.8" y1="9.5" x2="732.9" y2="142.5" stroke="#000" stroke-width="2"/>
<line x1="301" y1="350" x2="723.3" y2="168.1" stroke="#000" stroke-width="2"/>
<clipPath id="b3"><rect x="3" y="311.4" width="878.7" height="24.7"/></clipPath>
<g clip-path="url(#b3)"><line x1="301" y1="350" x2="723.3" y2="168.1" stroke="#fbdec1" stroke-width="3.2"/><line x1="301" y1="350" x2="723.3" y2="168.1" stroke="#e98f6e" stroke-width="2" opacity="0.75"/><line x1="301" y1="350" x2="723.3" y2="168.1" stroke="#2b3646" stroke-width="1.15"/></g>
<g stroke="#2e83b1" stroke-width="1.2" fill="none" stroke-linecap="round"><line x1="717.4" y1="188.4" x2="746.9" y2="442.7"/><polyline points="738.1,434.5 746.9,442.7 752.6,430.4"/></g>
<rect x="884" y="0" width="2" height="550" fill="#a1a3ac"/>
<rect x="0" y="518.8" width="932" height="2.1" fill="#80838f"/>
<rect x="886" y="62.8" width="2.4" height="1.2" fill="#444"/>
<text x="891" y="68.0" font-size="13" fill="#50535d" stroke="#50535d" stroke-width="0.3" textLength="31" lengthAdjust="spacingAndGlyphs">1.12000</text>
<rect x="886" y="127.9" width="2.4" height="1.2" fill="#444"/>
<text x="891" y="133.1" font-size="13" fill="#50535d" stroke="#50535d" stroke-width="0.3" textLength="31" lengthAdjust="spacingAndGlyphs">1.11500</text>
<rect x="886" y="194.5" width="2.4" height="1.2" fill="#444"/>
<text x="891" y="199.7" font-size="13" fill="#50535d" stroke="#50535d" stroke-width="0.3" textLength="31" lengthAdjust="spacingAndGlyphs">1.11000</text>
<rect x="886" y="259.8" width="2.4" height="1.2" fill="#444"/>
<text x="891" y="265.0" font-size="13" fill="#50535d" stroke="#50535d" stroke-width="0.3" textLength="31" lengthAdjust="spacingAndGlyphs">1.10500</text>
<rect x="886" y="324.8" width="2.4" height="1.2" fill="#444"/>
<text x="891" y="330.0" font-size="13" fill="#50535d" stroke="#50535d" stroke-width="0.3" textLength="31" lengthAdjust="spacingAndGlyphs">1.10000</text>
<rect x="886" y="390.1" width="2.4" height="1.2" fill="#444"/>
<text x="891" y="395.3" font-size="13" fill="#50535d" stroke="#50535d" stroke-width="0.3" textLength="31" lengthAdjust="spacingAndGlyphs">1.09500</text>
<rect x="886" y="456.4" width="2.4" height="1.2" fill="#444"/>
<text x="891" y="461.7" font-size="13" fill="#50535d" stroke="#50535d" stroke-width="0.3" textLength="31" lengthAdjust="spacingAndGlyphs">1.09000</text>
<rect x="59.8" y="520.8" width="1.2" height="3" fill="#444"/>
<text x="52.7" y="541" font-size="13" fill="#50535d" stroke="#50535d" stroke-width="0.3" textLength="14.7" lengthAdjust="spacingAndGlyphs">Nov</text>
<rect x="130.7" y="520.8" width="1.2" height="3" fill="#444"/>
<text x="126.6" y="541" font-size="13" fill="#50535d" stroke="#50535d" stroke-width="0.3" textLength="8.6" lengthAdjust="spacingAndGlyphs">11</text>
<rect x="190.7" y="520.8" width="1.2" height="3" fill="#444"/>
<text x="186.2" y="541" font-size="13" fill="#50535d" stroke="#50535d" stroke-width="0.3" textLength="9.6" lengthAdjust="spacingAndGlyphs">18</text>
<rect x="306.7" y="520.8" width="1.2" height="3" fill="#444"/>
<text x="299.6" y="541" font-size="13" fill="#50535d" stroke="#50535d" stroke-width="0.3" textLength="14.3" lengthAdjust="spacingAndGlyphs">Dec</text>
<rect x="367.9" y="520.8" width="1.2" height="3" fill="#444"/>
<text x="366.0" y="541" font-size="13" fill="#50535d" stroke="#50535d" stroke-width="0.3" textLength="4.8" lengthAdjust="spacingAndGlyphs">9</text>
<rect x="427.2" y="520.8" width="1.2" height="3" fill="#444"/>
<text x="423.0" y="541" font-size="13" fill="#50535d" stroke="#50535d" stroke-width="0.3" textLength="9.1" lengthAdjust="spacingAndGlyphs">16</text>
<rect x="486.2" y="520.8" width="1.2" height="3" fill="#444"/>
<text x="482.0" y="541" font-size="13" fill="#50535d" stroke="#50535d" stroke-width="0.3" textLength="9.2" lengthAdjust="spacingAndGlyphs">23</text>
<rect x="551.6" y="520.8" width="1.2" height="3" fill="#444"/>
<text x="541.8" y="541" font-size="13" fill="#50535d" stroke="#4a4d58" stroke-width="0.75" textLength="20.2" lengthAdjust="spacingAndGlyphs">2020</text>
<rect x="631.9" y="520.8" width="1.2" height="3" fill="#444"/>
<text x="628.0" y="541" font-size="13" fill="#50535d" stroke="#50535d" stroke-width="0.3" textLength="8.6" lengthAdjust="spacingAndGlyphs">13</text>
<rect x="691.8" y="520.8" width="1.2" height="3" fill="#444"/>
<text x="687.8" y="541" font-size="13" fill="#50535d" stroke="#50535d" stroke-width="0.3" textLength="9.2" lengthAdjust="spacingAndGlyphs">20</text>
<rect x="808.1" y="520.8" width="1.2" height="3" fill="#444"/>
<text x="801.5" y="541" font-size="13" fill="#50535d" stroke="#50535d" stroke-width="0.3" textLength="14.1" lengthAdjust="spacingAndGlyphs">Feb</text>
<rect x="869.9" y="520.8" width="1.2" height="3" fill="#444"/>
<text x="865.6" y="541" font-size="13" fill="#50535d" stroke="#50535d" stroke-width="0.3" textLength="9.0" lengthAdjust="spacingAndGlyphs">10</text>
<rect x="885" y="190.9" width="44.2" height="19.5" fill="#ec4b4c"/>
<rect x="885" y="212.2" width="44.2" height="18.9" fill="#ec4b4c"/>
<rect x="885" y="201" width="3" height="1.2" fill="#fff"/>
<text x="891.9" y="205.7" font-size="14" font-weight="bold" fill="#fff" textLength="30.7" lengthAdjust="spacingAndGlyphs">1.10947</text>
<text x="888.3" y="226.1" font-size="14" font-weight="bold" fill="#fff" textLength="33.8" lengthAdjust="spacingAndGlyphs">01:10:01</text>
<text x="6" y="23" font-size="14.3" fill="#4a4c5a" stroke="#4a4c5a" stroke-width="0.35" textLength="125.3" lengthAdjust="spacingAndGlyphs">Euro / U.S. Dollar, 240, FXCM</text>
<g id="icons">
<ellipse cx="733.1" cy="476.8" rx="9.5" ry="11.4" fill="#fff" stroke="#f0504f" stroke-width="1.6"/>
<ellipse cx="733" cy="477.7" rx="7" ry="9" fill="#3f7fb3"/>
<circle cx="736.9" cy="477.7" r="0.75" fill="#e8a24a"/>
<circle cx="736.2" cy="480.8" r="0.75" fill="#e8a24a"/>
<circle cx="734.2" cy="482.6" r="0.75" fill="#e8a24a"/>
<circle cx="731.8" cy="482.6" r="0.75" fill="#e8a24a"/>
<circle cx="729.8" cy="480.8" r="0.75" fill="#e8a24a"/>
<circle cx="729.1" cy="477.7" r="0.75" fill="#e8a24a"/>
<circle cx="729.8" cy="474.6" r="0.75" fill="#e8a24a"/>
<circle cx="731.8" cy="472.8" r="0.75" fill="#e8a24a"/>
<circle cx="734.2" cy="472.8" r="0.75" fill="#e8a24a"/>
<circle cx="736.2" cy="474.6" r="0.75" fill="#e8a24a"/>
<ellipse cx="723.5" cy="503.9" rx="9.6" ry="13" fill="#fff" stroke="#f0504f" stroke-width="1.5"/>
<ellipse cx="735" cy="503.9" rx="9.6" ry="13" fill="#fff" stroke="#f0504f" stroke-width="1.5"/>
<ellipse cx="745.5" cy="503.9" rx="9.6" ry="13" fill="#fff" stroke="#f0504f" stroke-width="1.5"/>
<ellipse cx="756.3" cy="503.9" rx="9.6" ry="13" fill="#fff" stroke="#f0504f" stroke-width="1.5"/>
<clipPath id="fcu"><ellipse cx="723.5" cy="503.9" rx="7.7" ry="10.8"/><ellipse cx="735" cy="503.9" rx="7.7" ry="10.8"/><ellipse cx="745.5" cy="503.9" rx="7.7" ry="10.8"/><ellipse cx="756.3" cy="503.9" rx="7.7" ry="10.8"/></clipPath>
<g clip-path="url(#fcu)">
<rect x="712" y="490" width="58" height="30" fill="#fff"/>
<rect x="714" y="496.9" width="54" height="2.1" fill="#f0504f"/>
<rect x="714" y="500.55" width="54" height="2.1" fill="#f0504f"/>
<rect x="714" y="504.2" width="54" height="2.1" fill="#f0504f"/>
<rect x="714" y="507.85" width="54" height="2.1" fill="#f0504f"/>
<rect x="714" y="511.5" width="54" height="2.1" fill="#f0504f"/>
<rect x="716.3" y="496.3" width="7" height="7.4" fill="#5b90c2"/>
<rect x="716.8" y="498.0" width="5.6" height="0.7" fill="#e6eef6"/>
<rect x="716.8" y="500.0" width="5.6" height="0.7" fill="#e6eef6"/>
<rect x="716.8" y="502.0" width="5.6" height="0.7" fill="#e6eef6"/>
<rect x="753.4" y="501.6" width="3.8" height="4.4" fill="#5b90c2"/>
<rect x="728.5" y="501.8" width="4" height="3" fill="#8fb2d4"/>
<ellipse cx="743.2" cy="505.8" rx="3.6" ry="6.8" fill="#3f7fb3" transform="rotate(22 743.2 505.8)"/>
<path d="M740.2 511.5 l2 -4.2 l1.2 2 l2 -5" stroke="#d98a4a" stroke-width="1.3" fill="none"/>
</g>
<circle cx="738.6" cy="470.4" r="5.1" fill="#fff"/>
<text x="736.7" y="473.8" font-size="10" fill="#111" stroke="#111" stroke-width="0.25" textLength="3.8" lengthAdjust="spacingAndGlyphs">2</text>
<circle cx="729.1" cy="496.2" r="5.1" fill="#fff"/>
<text x="727.2" y="499.6" font-size="10" fill="#111" stroke="#111" stroke-width="0.25" textLength="3.8" lengthAdjust="spacingAndGlyphs">2</text>
<circle cx="741.1" cy="496.2" r="5.1" fill="#fff"/>
<text x="739.2" y="499.6" font-size="10" fill="#111" stroke="#111" stroke-width="0.25" textLength="3.8" lengthAdjust="spacingAndGlyphs">3</text>
<circle cx="750.8" cy="496.2" r="5.1" fill="#fff"/>
<text x="748.9" y="499.6" font-size="10" fill="#111" stroke="#111" stroke-width="0.25" textLength="3.8" lengthAdjust="spacingAndGlyphs">2</text>
<circle cx="762.4" cy="496.2" r="5.1" fill="#fff"/>
<text x="760.5" y="499.6" font-size="10" fill="#111" stroke="#111" stroke-width="0.25" textLength="3.8" lengthAdjust="spacingAndGlyphs">2</text>
</g>
</svg>
</body></html>
